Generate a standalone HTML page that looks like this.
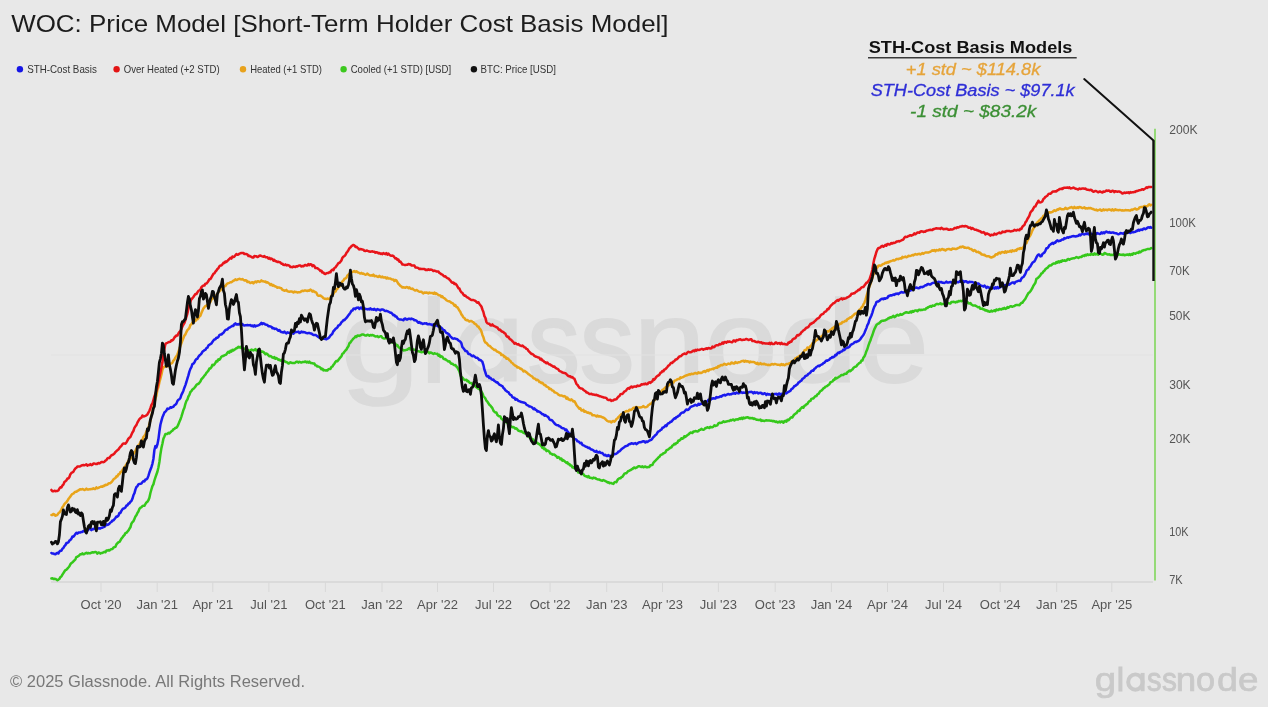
<!DOCTYPE html>
<html><head><meta charset="utf-8"><title>WOC: Price Model</title>
<style>
html,body{margin:0;padding:0;background:#e8e8e8;}
body{width:1268px;height:707px;overflow:hidden;}
svg{display:block;font-family:"Liberation Sans",sans-serif;filter:blur(0.35px);}
</style></head><body>
<svg width="1268" height="707" viewBox="0 0 1268 707"><rect width="1268" height="707" fill="#e8e8e8"/><text transform="translate(340.51 381.5) scale(1.220 1)" font-size="117" fill="#dadada" stroke="#dadada" stroke-width="1.64">g</text><text transform="translate(421.33 381.5) scale(0.972 1)" font-size="117" fill="#dadada" stroke="#dadada" stroke-width="2.06">l</text><ellipse cx="487.15" cy="350.02" rx="23.02" ry="25.55" fill="none" stroke="#dadada" stroke-width="12.85"/><rect x="503.75" y="318.54" width="12.85" height="62.96" fill="#dadada"/><text transform="translate(527.48 381.5) scale(0.898 1)" font-size="117" fill="#dadada" stroke="#dadada" stroke-width="2.23">s</text><text transform="translate(579.76 381.5) scale(0.935 1)" font-size="117" fill="#dadada" stroke="#dadada" stroke-width="2.14">s</text><text transform="translate(633.40 381.5) scale(1.107 1)" font-size="117" fill="#dadada" stroke="#dadada" stroke-width="1.81">n</text><text transform="translate(704.49 381.5) scale(1.122 1)" font-size="117" fill="#dadada" stroke="#dadada" stroke-width="1.78">o</text><text transform="translate(779.02 381.5) scale(1.216 1)" font-size="117" fill="#dadada" stroke="#dadada" stroke-width="1.64">d</text><text transform="translate(858.66 381.5) scale(1.075 1)" font-size="117" fill="#dadada" stroke="#dadada" stroke-width="1.86">e</text><line x1="51" y1="355" x2="1153" y2="355" stroke="#e2e2e2" stroke-width="1.2"/><text x="11.2" y="32.4" font-size="24" fill="#1c1c1c" textLength="657.4" lengthAdjust="spacingAndGlyphs">WOC: Price Model [Short-Term Holder Cost Basis Model]</text><circle cx="19.9" cy="69.2" r="3.2" fill="#1515e6"/><text x="27.2" y="73" font-size="10.6" fill="#333333" textLength="69.6" lengthAdjust="spacingAndGlyphs">STH-Cost Basis</text><circle cx="116.6" cy="69.2" r="3.2" fill="#e31414"/><text x="123.7" y="73" font-size="10.6" fill="#333333" textLength="96" lengthAdjust="spacingAndGlyphs">Over Heated (+2 STD)</text><circle cx="243" cy="69.2" r="3.2" fill="#e8a21c"/><text x="250.2" y="73" font-size="10.6" fill="#333333" textLength="71.8" lengthAdjust="spacingAndGlyphs">Heated (+1 STD)</text><circle cx="343.6" cy="69.2" r="3.2" fill="#3cc81e"/><text x="350.7" y="73" font-size="10.6" fill="#333333" textLength="100.4" lengthAdjust="spacingAndGlyphs">Cooled (+1 STD) [USD]</text><circle cx="473.9" cy="69.2" r="3.2" fill="#111111"/><text x="480.5" y="73" font-size="10.6" fill="#333333" textLength="75.5" lengthAdjust="spacingAndGlyphs">BTC: Price [USD]</text><text x="868.7" y="53.3" font-size="16.5" font-weight="bold" fill="#111111" textLength="203.7" lengthAdjust="spacingAndGlyphs">STH-Cost Basis Models</text><line x1="868" y1="57.8" x2="1076.7" y2="57.8" stroke="#3a3a3a" stroke-width="1.6"/><text x="905.8" y="74.7" font-size="16.6" font-style="italic" fill="#e6a43a" stroke="#e6a43a" stroke-width="0.3" textLength="134.5" lengthAdjust="spacingAndGlyphs">+1 std ~ $114.8k</text><text x="870.7" y="96.1" font-size="16.6" font-style="italic" fill="#2e2ed6" stroke="#2e2ed6" stroke-width="0.3" textLength="204" lengthAdjust="spacingAndGlyphs">STH-Cost Basis ~ $97.1k</text><text x="910.1" y="117.4" font-size="16.6" font-style="italic" fill="#3b8f34" stroke="#3b8f34" stroke-width="0.3" textLength="126.2" lengthAdjust="spacingAndGlyphs">-1 std ~ $83.2k</text><line x1="51" y1="582" x2="1153" y2="582" stroke="#d6d6d6" stroke-width="1.4"/><line x1="101" y1="582" x2="101" y2="592" stroke="#d8d8d8" stroke-width="1"/><text x="101" y="609.3" font-size="13" fill="#555555" text-anchor="middle">Oct '20</text><line x1="157.2" y1="582" x2="157.2" y2="592" stroke="#d8d8d8" stroke-width="1"/><text x="157.2" y="609.3" font-size="13" fill="#555555" text-anchor="middle">Jan '21</text><line x1="212.8" y1="582" x2="212.8" y2="592" stroke="#d8d8d8" stroke-width="1"/><text x="212.8" y="609.3" font-size="13" fill="#555555" text-anchor="middle">Apr '21</text><line x1="268.9" y1="582" x2="268.9" y2="592" stroke="#d8d8d8" stroke-width="1"/><text x="268.9" y="609.3" font-size="13" fill="#555555" text-anchor="middle">Jul '21</text><line x1="325.4" y1="582" x2="325.4" y2="592" stroke="#d8d8d8" stroke-width="1"/><text x="325.4" y="609.3" font-size="13" fill="#555555" text-anchor="middle">Oct '21</text><line x1="382" y1="582" x2="382" y2="592" stroke="#d8d8d8" stroke-width="1"/><text x="382" y="609.3" font-size="13" fill="#555555" text-anchor="middle">Jan '22</text><line x1="437.5" y1="582" x2="437.5" y2="592" stroke="#d8d8d8" stroke-width="1"/><text x="437.5" y="609.3" font-size="13" fill="#555555" text-anchor="middle">Apr '22</text><line x1="493.5" y1="582" x2="493.5" y2="592" stroke="#d8d8d8" stroke-width="1"/><text x="493.5" y="609.3" font-size="13" fill="#555555" text-anchor="middle">Jul '22</text><line x1="550.1" y1="582" x2="550.1" y2="592" stroke="#d8d8d8" stroke-width="1"/><text x="550.1" y="609.3" font-size="13" fill="#555555" text-anchor="middle">Oct '22</text><line x1="606.7" y1="582" x2="606.7" y2="592" stroke="#d8d8d8" stroke-width="1"/><text x="606.7" y="609.3" font-size="13" fill="#555555" text-anchor="middle">Jan '23</text><line x1="662.5" y1="582" x2="662.5" y2="592" stroke="#d8d8d8" stroke-width="1"/><text x="662.5" y="609.3" font-size="13" fill="#555555" text-anchor="middle">Apr '23</text><line x1="718.4" y1="582" x2="718.4" y2="592" stroke="#d8d8d8" stroke-width="1"/><text x="718.4" y="609.3" font-size="13" fill="#555555" text-anchor="middle">Jul '23</text><line x1="775.2" y1="582" x2="775.2" y2="592" stroke="#d8d8d8" stroke-width="1"/><text x="775.2" y="609.3" font-size="13" fill="#555555" text-anchor="middle">Oct '23</text><line x1="831.4" y1="582" x2="831.4" y2="592" stroke="#d8d8d8" stroke-width="1"/><text x="831.4" y="609.3" font-size="13" fill="#555555" text-anchor="middle">Jan '24</text><line x1="887.5" y1="582" x2="887.5" y2="592" stroke="#d8d8d8" stroke-width="1"/><text x="887.5" y="609.3" font-size="13" fill="#555555" text-anchor="middle">Apr '24</text><line x1="943.5" y1="582" x2="943.5" y2="592" stroke="#d8d8d8" stroke-width="1"/><text x="943.5" y="609.3" font-size="13" fill="#555555" text-anchor="middle">Jul '24</text><line x1="1000.2" y1="582" x2="1000.2" y2="592" stroke="#d8d8d8" stroke-width="1"/><text x="1000.2" y="609.3" font-size="13" fill="#555555" text-anchor="middle">Oct '24</text><line x1="1056.7" y1="582" x2="1056.7" y2="592" stroke="#d8d8d8" stroke-width="1"/><text x="1056.7" y="609.3" font-size="13" fill="#555555" text-anchor="middle">Jan '25</text><line x1="1111.8" y1="582" x2="1111.8" y2="592" stroke="#d8d8d8" stroke-width="1"/><text x="1111.8" y="609.3" font-size="13" fill="#555555" text-anchor="middle">Apr '25</text><text x="1169.2" y="133.9" font-size="12.8" fill="#555555" textLength="28.4" lengthAdjust="spacingAndGlyphs">200K</text><text x="1169.2" y="226.9" font-size="12.8" fill="#555555" textLength="26.7" lengthAdjust="spacingAndGlyphs">100K</text><text x="1169.2" y="274.8" font-size="12.8" fill="#555555" textLength="20.5" lengthAdjust="spacingAndGlyphs">70K</text><text x="1169.2" y="319.9" font-size="12.8" fill="#555555" textLength="21.2" lengthAdjust="spacingAndGlyphs">50K</text><text x="1169.2" y="388.5" font-size="12.8" fill="#555555" textLength="21.5" lengthAdjust="spacingAndGlyphs">30K</text><text x="1169.2" y="442.9" font-size="12.8" fill="#555555" textLength="21.2" lengthAdjust="spacingAndGlyphs">20K</text><text x="1169.2" y="535.9" font-size="12.8" fill="#555555" textLength="19.3" lengthAdjust="spacingAndGlyphs">10K</text><text x="1169.2" y="583.8" font-size="12.8" fill="#555555" textLength="13.5" lengthAdjust="spacingAndGlyphs">7K</text><path d="M51.4 578.5L52.4 578.3L53.4 579.0L54.4 578.8L55.4 578.9L56.4 579.5L57.4 580.2L58.4 579.6L59.4 578.9L60.4 577.1L61.4 576.5L62.4 574.7L63.4 573.1L64.4 571.5L65.4 570.1L66.4 569.8L67.4 568.6L68.4 567.5L69.4 566.3L70.4 564.2L71.4 563.1L72.4 562.4L73.4 561.3L74.4 560.3L75.4 559.3L76.4 556.9L77.4 556.8L78.4 556.1L79.4 555.2L80.4 554.2L81.4 554.3L82.4 553.3L83.4 554.3L84.4 554.0L85.4 553.3L86.4 552.7L87.4 553.5L88.4 552.9L89.4 553.3L90.4 553.2L91.4 552.6L92.4 552.3L93.4 552.6L94.4 552.2L95.4 551.9L96.4 552.4L97.4 553.6L98.4 552.6L99.4 552.8L100.4 553.6L101.4 552.9L102.4 552.9L103.4 552.4L104.4 551.7L105.4 552.3L106.4 550.6L107.4 550.6L108.4 550.1L109.4 550.5L110.4 549.6L111.4 549.2L112.4 549.1L113.4 547.7L114.4 547.2L115.4 546.8L116.4 544.4L117.4 543.2L118.4 542.3L119.4 541.9L120.4 540.5L121.4 538.6L122.4 537.5L123.4 536.0L124.4 535.1L125.4 533.1L126.4 532.8L127.4 531.7L128.4 530.5L129.4 528.8L130.4 527.3L131.4 523.7L132.4 522.1L133.4 521.2L134.4 518.9L135.4 516.6L136.4 515.3L137.4 512.9L138.4 511.5L139.4 508.9L140.4 507.7L141.4 507.3L142.4 506.1L143.4 505.7L144.4 505.8L145.4 504.0L146.4 502.6L147.4 501.8L148.4 500.3L149.4 497.7L150.4 493.0L151.4 489.5L152.4 486.1L153.4 484.4L154.4 480.5L155.4 477.3L156.4 474.5L157.4 471.8L158.4 467.5L159.4 462.0L160.4 454.2L161.4 448.1L162.4 443.7L163.4 438.8L164.4 436.5L165.4 434.0L166.4 434.0L167.4 433.9L168.4 432.9L169.4 433.5L170.4 432.3L171.4 431.3L172.4 430.7L173.4 429.3L174.4 429.1L175.4 427.8L176.4 427.8L177.4 426.4L178.4 424.4L179.4 421.8L180.4 419.6L181.4 416.6L182.4 413.3L183.4 410.0L184.4 407.8L185.4 403.8L186.4 400.9L187.4 399.6L188.4 396.5L189.4 394.9L190.4 392.0L191.4 391.1L192.4 389.5L193.4 388.8L194.4 387.8L195.4 386.6L196.4 385.0L197.4 384.1L198.4 384.0L199.4 382.7L200.4 381.5L201.4 379.2L202.4 378.3L203.4 377.1L204.4 375.6L205.4 374.6L206.4 372.9L207.4 371.8L208.4 370.6L209.4 368.6L210.4 368.4L211.4 367.2L212.4 364.8L213.4 365.3L214.4 364.3L215.4 362.9L216.4 361.0L217.4 361.4L218.4 359.3L219.4 359.8L220.4 358.4L221.4 356.7L222.4 356.1L223.4 356.1L224.4 355.3L225.4 354.9L226.4 354.5L227.4 352.7L228.4 351.8L229.4 352.7L230.4 350.7L231.4 351.6L232.4 349.9L233.4 350.4L234.4 349.6L235.4 349.1L236.4 348.0L237.4 348.1L238.4 346.7L239.4 347.4L240.4 346.9L241.4 348.1L242.4 348.3L243.4 348.3L244.4 348.9L245.4 348.6L246.4 349.0L247.4 350.3L248.4 350.3L249.4 350.9L250.4 350.5L251.4 349.6L252.4 349.9L253.4 350.5L254.4 350.0L255.4 349.1L256.4 350.5L257.4 350.5L258.4 349.5L259.4 350.6L260.4 350.7L261.4 351.8L262.4 351.6L263.4 352.0L264.4 353.0L265.4 354.3L266.4 353.5L267.4 354.1L268.4 355.4L269.4 356.3L270.4 356.1L271.4 356.5L272.4 357.6L273.4 357.9L274.4 357.1L275.4 358.8L276.4 358.1L277.4 358.7L278.4 359.9L279.4 359.6L280.4 360.6L281.4 359.9L282.4 361.4L283.4 360.7L284.4 361.0L285.4 361.9L286.4 362.0L287.4 362.6L288.4 363.4L289.4 363.2L290.4 362.2L291.4 362.8L292.4 363.1L293.4 362.9L294.4 363.1L295.4 362.5L296.4 361.7L297.4 361.8L298.4 362.6L299.4 361.7L300.4 362.3L301.4 362.6L302.4 362.0L303.4 362.1L304.4 361.9L305.4 361.4L306.4 362.4L307.4 361.7L308.4 362.6L309.4 361.7L310.4 362.9L311.4 363.0L312.4 363.2L313.4 363.4L314.4 363.6L315.4 365.3L316.4 365.4L317.4 366.6L318.4 366.5L319.4 367.0L320.4 367.7L321.4 369.2L322.4 368.7L323.4 370.4L324.4 370.0L325.4 370.5L326.4 370.2L327.4 370.5L328.4 369.2L329.4 369.0L330.4 369.1L331.4 366.9L332.4 366.6L333.4 364.9L334.4 363.7L335.4 362.0L336.4 360.9L337.4 361.2L338.4 359.9L339.4 358.6L340.4 357.4L341.4 356.4L342.4 353.8L343.4 353.2L344.4 351.7L345.4 350.5L346.4 349.6L347.4 347.7L348.4 346.3L349.4 343.3L350.4 342.5L351.4 341.0L352.4 339.8L353.4 338.5L354.4 337.9L355.4 336.4L356.4 336.9L357.4 335.6L358.4 335.6L359.4 335.9L360.4 335.4L361.4 334.7L362.4 334.4L363.4 334.6L364.4 335.0L365.4 335.6L366.4 335.6L367.4 334.8L368.4 335.0L369.4 335.7L370.4 335.0L371.4 335.4L372.4 334.9L373.4 335.3L374.4 336.0L375.4 336.4L376.4 336.4L377.4 336.1L378.4 337.2L379.4 336.8L380.4 336.2L381.4 336.3L382.4 337.9L383.4 338.2L384.4 338.4L385.4 338.3L386.4 338.2L387.4 338.4L388.4 339.2L389.4 339.8L390.4 341.5L391.4 342.1L392.4 342.6L393.4 342.3L394.4 343.1L395.4 343.8L396.4 345.5L397.4 345.1L398.4 347.0L399.4 347.7L400.4 348.4L401.4 349.9L402.4 349.5L403.4 350.4L404.4 350.2L405.4 350.2L406.4 349.8L407.4 349.7L408.4 348.7L409.4 348.1L410.4 349.4L411.4 348.3L412.4 349.5L413.4 349.4L414.4 349.8L415.4 350.0L416.4 350.8L417.4 351.1L418.4 351.2L419.4 351.4L420.4 351.9L421.4 352.2L422.4 352.1L423.4 352.1L424.4 351.7L425.4 352.9L426.4 352.4L427.4 351.9L428.4 352.1L429.4 353.3L430.4 352.5L431.4 352.8L432.4 353.4L433.4 353.9L434.4 353.2L435.4 353.6L436.4 353.9L437.4 353.8L438.4 355.6L439.4 354.8L440.4 356.9L441.4 356.3L442.4 356.9L443.4 358.7L444.4 359.3L445.4 359.0L446.4 360.2L447.4 360.6L448.4 361.6L449.4 361.3L450.4 362.8L451.4 363.7L452.4 363.7L453.4 364.7L454.4 365.3L455.4 365.1L456.4 366.5L457.4 367.5L458.4 369.5L459.4 371.4L460.4 374.9L461.4 377.7L462.4 377.6L463.4 378.8L464.4 379.9L465.4 380.0L466.4 379.7L467.4 381.2L468.4 381.1L469.4 382.7L470.4 382.9L471.4 382.9L472.4 384.5L473.4 384.7L474.4 385.0L475.4 386.5L476.4 387.3L477.4 388.0L478.4 388.7L479.4 389.2L480.4 390.0L481.4 391.5L482.4 393.3L483.4 396.0L484.4 397.2L485.4 398.5L486.4 400.7L487.4 401.7L488.4 403.2L489.4 404.7L490.4 405.6L491.4 406.9L492.4 408.1L493.4 410.6L494.4 411.8L495.4 412.5L496.4 412.6L497.4 415.0L498.4 415.8L499.4 416.3L500.4 416.5L501.4 418.8L502.4 419.4L503.4 420.3L504.4 420.2L505.4 422.1L506.4 421.8L507.4 423.3L508.4 423.5L509.4 424.5L510.4 426.1L511.4 426.5L512.4 427.2L513.4 427.0L514.4 427.8L515.4 428.7L516.4 428.3L517.4 429.4L518.4 430.8L519.4 430.9L520.4 431.5L521.4 431.0L522.4 432.1L523.4 432.8L524.4 433.2L525.4 433.4L526.4 433.7L527.4 434.2L528.4 436.4L529.4 437.2L530.4 437.0L531.4 438.6L532.4 438.9L533.4 440.1L534.4 441.3L535.4 441.3L536.4 442.6L537.4 442.8L538.4 444.0L539.4 444.1L540.4 445.3L541.4 446.1L542.4 447.9L543.4 447.5L544.4 449.3L545.4 448.9L546.4 451.1L547.4 450.4L548.4 451.0L549.4 451.8L550.4 453.6L551.4 453.7L552.4 454.7L553.4 454.6L554.4 454.6L555.4 455.5L556.4 456.3L557.4 457.7L558.4 457.0L559.4 457.7L560.4 459.2L561.4 458.6L562.4 460.6L563.4 460.1L564.4 461.1L565.4 461.9L566.4 462.9L567.4 462.3L568.4 464.2L569.4 463.9L570.4 465.6L571.4 465.4L572.4 467.4L573.4 467.3L574.4 468.2L575.4 468.8L576.4 470.0L577.4 470.8L578.4 472.5L579.4 472.5L580.4 472.7L581.4 474.3L582.4 473.5L583.4 474.1L584.4 475.7L585.4 476.2L586.4 476.2L587.4 477.1L588.4 476.0L589.4 477.7L590.4 477.7L591.4 478.0L592.4 478.5L593.4 477.6L594.4 478.0L595.4 478.1L596.4 478.9L597.4 479.2L598.4 479.4L599.4 479.4L600.4 480.2L601.4 480.6L602.4 480.8L603.4 480.0L604.4 480.5L605.4 481.1L606.4 481.5L607.4 482.4L608.4 482.2L609.4 483.2L610.4 482.9L611.4 483.1L612.4 483.6L613.4 483.9L614.4 482.3L615.4 481.9L616.4 482.2L617.4 480.1L618.4 478.9L619.4 478.2L620.4 478.3L621.4 477.2L622.4 476.8L623.4 475.3L624.4 473.7L625.4 473.3L626.4 473.2L627.4 472.0L628.4 470.9L629.4 470.7L630.4 470.2L631.4 469.4L632.4 469.0L633.4 468.0L634.4 467.4L635.4 468.2L636.4 467.7L637.4 466.9L638.4 466.2L639.4 466.3L640.4 466.6L641.4 467.0L642.4 466.4L643.4 467.3L644.4 466.8L645.4 466.5L646.4 467.3L647.4 467.3L648.4 467.1L649.4 466.9L650.4 465.2L651.4 465.2L652.4 464.9L653.4 462.8L654.4 461.6L655.4 460.7L656.4 459.7L657.4 458.7L658.4 457.4L659.4 456.9L660.4 455.2L661.4 454.6L662.4 454.3L663.4 453.2L664.4 453.1L665.4 452.3L666.4 450.4L667.4 449.8L668.4 449.3L669.4 448.6L670.4 447.5L671.4 447.5L672.4 445.6L673.4 445.2L674.4 443.8L675.4 444.2L676.4 442.9L677.4 442.7L678.4 440.6L679.4 440.7L680.4 439.7L681.4 438.2L682.4 438.7L683.4 438.1L684.4 436.2L685.4 436.9L686.4 436.0L687.4 435.1L688.4 434.5L689.4 433.5L690.4 432.6L691.4 432.8L692.4 433.0L693.4 431.5L694.4 431.6L695.4 430.9L696.4 431.3L697.4 431.5L698.4 431.1L699.4 429.9L700.4 429.8L701.4 428.9L702.4 429.5L703.4 429.7L704.4 429.4L705.4 427.9L706.4 428.1L707.4 427.3L708.4 427.6L709.4 428.0L710.4 426.7L711.4 427.3L712.4 427.2L713.4 426.6L714.4 425.3L715.4 426.0L716.4 425.6L717.4 425.3L718.4 423.3L719.4 422.8L720.4 422.9L721.4 422.8L722.4 422.3L723.4 421.4L724.4 422.0L725.4 421.8L726.4 421.6L727.4 421.2L728.4 421.1L729.4 421.1L730.4 420.0L731.4 420.4L732.4 419.8L733.4 419.6L734.4 420.5L735.4 419.6L736.4 419.5L737.4 419.2L738.4 419.5L739.4 418.4L740.4 419.0L741.4 417.8L742.4 419.0L743.4 417.5L744.4 418.3L745.4 417.8L746.4 417.5L747.4 417.3L748.4 417.4L749.4 418.2L750.4 418.0L751.4 418.2L752.4 418.0L753.4 418.9L754.4 418.4L755.4 419.2L756.4 419.7L757.4 419.7L758.4 419.9L759.4 420.0L760.4 419.5L761.4 420.9L762.4 420.5L763.4 420.7L764.4 421.1L765.4 420.4L766.4 420.3L767.4 420.4L768.4 420.5L769.4 420.6L770.4 420.7L771.4 420.7L772.4 421.2L773.4 421.0L774.4 421.3L775.4 421.9L776.4 421.4L777.4 422.4L778.4 422.3L779.4 421.6L780.4 422.4L781.4 421.5L782.4 421.4L783.4 422.8L784.4 421.2L785.4 420.8L786.4 421.7L787.4 419.7L788.4 420.2L789.4 419.3L790.4 418.0L791.4 417.2L792.4 417.5L793.4 415.6L794.4 414.4L795.4 413.7L796.4 413.2L797.4 411.7L798.4 410.6L799.4 410.9L800.4 408.9L801.4 408.0L802.4 407.0L803.4 407.7L804.4 405.9L805.4 405.4L806.4 404.2L807.4 404.0L808.4 402.1L809.4 401.2L810.4 400.9L811.4 398.9L812.4 398.6L813.4 398.4L814.4 397.2L815.4 396.2L816.4 396.0L817.4 394.3L818.4 393.9L819.4 392.5L820.4 391.1L821.4 390.7L822.4 389.6L823.4 388.4L824.4 387.9L825.4 386.7L826.4 386.3L827.4 385.8L828.4 384.9L829.4 384.2L830.4 382.3L831.4 382.0L832.4 381.5L833.4 379.8L834.4 379.9L835.4 377.8L836.4 378.4L837.4 377.7L838.4 377.3L839.4 376.6L840.4 375.9L841.4 375.0L842.4 375.1L843.4 374.9L844.4 374.0L845.4 373.7L846.4 373.7L847.4 372.2L848.4 371.7L849.4 370.6L850.4 371.2L851.4 370.1L852.4 369.4L853.4 368.0L854.4 367.1L855.4 366.7L856.4 366.4L857.4 364.7L858.4 363.9L859.4 362.9L860.4 362.6L861.4 360.5L862.4 360.6L863.4 357.6L864.4 356.5L865.4 354.2L866.4 351.2L867.4 349.0L868.4 345.7L869.4 342.8L870.4 340.5L871.4 337.4L872.4 335.0L873.4 331.8L874.4 329.1L875.4 327.1L876.4 325.0L877.4 324.1L878.4 323.7L879.4 322.9L880.4 322.1L881.4 320.9L882.4 320.7L883.4 320.7L884.4 320.4L885.4 320.2L886.4 319.6L887.4 319.1L888.4 318.1L889.4 318.2L890.4 317.2L891.4 317.6L892.4 316.5L893.4 315.9L894.4 317.1L895.4 316.6L896.4 315.4L897.4 314.7L898.4 315.6L899.4 315.2L900.4 314.0L901.4 314.8L902.4 314.5L903.4 313.8L904.4 313.1L905.4 312.5L906.4 312.2L907.4 312.6L908.4 312.8L909.4 312.5L910.4 311.6L911.4 312.4L912.4 311.0L913.4 311.7L914.4 310.8L915.4 310.4L916.4 310.5L917.4 311.3L918.4 310.2L919.4 309.7L920.4 310.2L921.4 309.8L922.4 309.9L923.4 309.6L924.4 309.5L925.4 309.4L926.4 308.1L927.4 308.1L928.4 306.9L929.4 306.7L930.4 306.0L931.4 306.8L932.4 305.6L933.4 305.8L934.4 305.8L935.4 304.7L936.4 304.1L937.4 304.0L938.4 304.2L939.4 303.9L940.4 303.2L941.4 304.3L942.4 303.9L943.4 304.1L944.4 304.0L945.4 303.7L946.4 303.8L947.4 303.5L948.4 303.0L949.4 303.5L950.4 303.5L951.4 302.1L952.4 301.9L953.4 301.8L954.4 302.0L955.4 302.5L956.4 301.7L957.4 302.1L958.4 301.1L959.4 301.3L960.4 300.7L961.4 301.3L962.4 300.7L963.4 300.4L964.4 301.2L965.4 301.7L966.4 302.5L967.4 301.9L968.4 303.3L969.4 303.6L970.4 303.0L971.4 304.4L972.4 305.1L973.4 305.6L974.4 305.6L975.4 305.6L976.4 306.2L977.4 306.8L978.4 307.3L979.4 307.1L980.4 308.8L981.4 308.8L982.4 308.6L983.4 309.4L984.4 309.5L985.4 310.5L986.4 310.2L987.4 311.2L988.4 310.9L989.4 311.7L990.4 311.6L991.4 310.6L992.4 311.5L993.4 311.0L994.4 310.3L995.4 311.2L996.4 309.5L997.4 309.9L998.4 310.0L999.4 309.0L1000.4 309.3L1001.4 309.6L1002.4 308.5L1003.4 308.9L1004.4 307.8L1005.4 308.9L1006.4 308.6L1007.4 307.1L1008.4 307.8L1009.4 306.9L1010.4 306.2L1011.4 306.3L1012.4 306.8L1013.4 306.2L1014.4 306.1L1015.4 305.2L1016.4 305.0L1017.4 305.0L1018.4 305.0L1019.4 305.2L1020.4 303.9L1021.4 302.8L1022.4 302.8L1023.4 301.2L1024.4 300.0L1025.4 298.8L1026.4 296.8L1027.4 294.9L1028.4 293.1L1029.4 292.4L1030.4 291.2L1031.4 289.7L1032.4 288.0L1033.4 285.7L1034.4 284.3L1035.4 282.8L1036.4 278.8L1037.4 278.3L1038.4 277.5L1039.4 276.4L1040.4 275.2L1041.4 273.5L1042.4 273.1L1043.4 271.5L1044.4 270.7L1045.4 269.3L1046.4 268.4L1047.4 267.9L1048.4 266.7L1049.4 265.6L1050.4 265.5L1051.4 265.2L1052.4 264.1L1053.4 263.6L1054.4 263.4L1055.4 263.5L1056.4 262.0L1057.4 262.6L1058.4 261.4L1059.4 262.4L1060.4 261.0L1061.4 261.8L1062.4 260.3L1063.4 260.8L1064.4 260.3L1065.4 260.9L1066.4 260.6L1067.4 259.4L1068.4 259.0L1069.4 259.8L1070.4 259.1L1071.4 258.7L1072.4 258.4L1073.4 258.2L1074.4 258.3L1075.4 257.7L1076.4 257.1L1077.4 257.4L1078.4 257.9L1079.4 257.3L1080.4 256.9L1081.4 257.0L1082.4 256.0L1083.4 255.6L1084.4 256.0L1085.4 254.7L1086.4 255.5L1087.4 254.4L1088.4 255.0L1089.4 254.6L1090.4 254.9L1091.4 253.7L1092.4 254.6L1093.4 254.8L1094.4 253.4L1095.4 254.4L1096.4 253.7L1097.4 254.4L1098.4 254.7L1099.4 253.1L1100.4 253.8L1101.4 253.9L1102.4 254.7L1103.4 254.6L1104.4 253.1L1105.4 253.3L1106.4 253.8L1107.4 254.5L1108.4 254.5L1109.4 254.2L1110.4 254.9L1111.4 254.8L1112.4 255.0L1113.4 254.7L1114.4 254.2L1115.4 255.1L1116.4 255.1L1117.4 255.5L1118.4 254.4L1119.4 254.2L1120.4 254.8L1121.4 254.7L1122.4 254.9L1123.4 254.4L1124.4 255.3L1125.4 255.0L1126.4 254.7L1127.4 254.4L1128.4 255.0L1129.4 254.1L1130.4 255.1L1131.4 254.0L1132.4 254.8L1133.4 253.3L1134.4 253.4L1135.4 253.7L1136.4 253.0L1137.4 252.6L1138.4 252.9L1139.4 251.5L1140.4 252.3L1141.4 251.4L1142.4 250.6L1143.4 250.4L1144.4 249.9L1145.4 250.0L1146.4 249.4L1147.4 249.1L1148.4 249.0L1149.4 249.1L1150.4 248.6L1151.2 248.1" fill="none" stroke="#35c81a" stroke-width="2.5" stroke-linejoin="round" stroke-linecap="round"/><path d="M51.4 553.0L52.4 553.6L53.4 553.5L54.4 554.1L55.4 554.3L56.4 553.3L57.4 552.8L58.4 553.5L59.4 551.7L60.4 550.7L61.4 550.8L62.4 548.7L63.4 548.0L64.4 546.1L65.4 545.1L66.4 543.1L67.4 542.9L68.4 542.3L69.4 540.6L70.4 539.9L71.4 538.7L72.4 536.6L73.4 536.7L74.4 535.4L75.4 534.1L76.4 532.8L77.4 533.6L78.4 532.6L79.4 532.6L80.4 532.5L81.4 531.9L82.4 532.0L83.4 530.9L84.4 531.2L85.4 530.4L86.4 531.0L87.4 530.7L88.4 529.3L89.4 529.1L90.4 529.1L91.4 530.1L92.4 529.1L93.4 529.3L94.4 528.5L95.4 528.6L96.4 528.3L97.4 528.2L98.4 528.5L99.4 528.3L100.4 528.5L101.4 527.8L102.4 527.7L103.4 527.2L104.4 526.8L105.4 525.8L106.4 524.4L107.4 524.9L108.4 524.5L109.4 523.7L110.4 522.5L111.4 522.0L112.4 520.4L113.4 520.6L114.4 519.3L115.4 518.0L116.4 516.6L117.4 516.7L118.4 515.7L119.4 513.0L120.4 512.9L121.4 510.9L122.4 509.3L123.4 508.5L124.4 508.3L125.4 507.6L126.4 505.4L127.4 505.4L128.4 503.5L129.4 503.5L130.4 501.7L131.4 501.1L132.4 498.8L133.4 495.3L134.4 493.3L135.4 489.6L136.4 487.0L137.4 486.3L138.4 484.3L139.4 483.9L140.4 483.8L141.4 483.6L142.4 482.1L143.4 481.1L144.4 481.4L145.4 479.5L146.4 479.5L147.4 478.4L148.4 475.9L149.4 472.5L150.4 469.8L151.4 467.2L152.4 463.8L153.4 459.0L154.4 450.0L155.4 446.1L156.4 447.4L157.4 444.4L158.4 439.3L159.4 431.5L160.4 424.7L161.4 420.9L162.4 417.3L163.4 415.1L164.4 412.5L165.4 411.6L166.4 410.5L167.4 408.6L168.4 409.0L169.4 408.5L170.4 407.2L171.4 407.7L172.4 407.0L173.4 406.7L174.4 405.3L175.4 404.7L176.4 403.6L177.4 401.1L178.4 399.8L179.4 399.2L180.4 398.0L181.4 394.8L182.4 392.9L183.4 390.7L184.4 387.7L185.4 385.1L186.4 382.0L187.4 378.6L188.4 375.4L189.4 371.6L190.4 368.8L191.4 367.1L192.4 364.1L193.4 363.6L194.4 362.5L195.4 360.3L196.4 359.0L197.4 358.8L198.4 356.8L199.4 355.5L200.4 354.6L201.4 353.6L202.4 351.8L203.4 351.1L204.4 350.1L205.4 349.8L206.4 348.1L207.4 347.7L208.4 345.5L209.4 344.7L210.4 344.1L211.4 343.5L212.4 341.9L213.4 340.5L214.4 339.4L215.4 339.2L216.4 337.7L217.4 337.8L218.4 337.0L219.4 335.1L220.4 334.5L221.4 334.5L222.4 333.5L223.4 332.9L224.4 331.3L225.4 330.1L226.4 329.6L227.4 329.6L228.4 328.1L229.4 327.6L230.4 327.1L231.4 326.4L232.4 325.7L233.4 325.9L234.4 324.1L235.4 323.4L236.4 324.6L237.4 324.3L238.4 324.4L239.4 323.7L240.4 324.7L241.4 324.9L242.4 324.1L243.4 325.2L244.4 325.4L245.4 325.3L246.4 325.2L247.4 325.0L248.4 325.2L249.4 325.2L250.4 325.1L251.4 326.0L252.4 325.6L253.4 326.4L254.4 325.2L255.4 326.4L256.4 325.7L257.4 325.7L258.4 325.3L259.4 324.9L260.4 324.0L261.4 322.9L262.4 324.1L263.4 323.3L264.4 323.7L265.4 324.6L266.4 324.8L267.4 325.0L268.4 326.3L269.4 326.3L270.4 326.4L271.4 326.8L272.4 328.2L273.4 328.0L274.4 328.9L275.4 328.7L276.4 328.8L277.4 329.8L278.4 330.7L279.4 330.1L280.4 331.5L281.4 332.1L282.4 332.3L283.4 332.6L284.4 331.6L285.4 332.8L286.4 333.4L287.4 332.3L288.4 332.7L289.4 332.8L290.4 333.3L291.4 333.2L292.4 333.3L293.4 333.7L294.4 332.3L295.4 332.2L296.4 332.1L297.4 331.9L298.4 331.6L299.4 333.0L300.4 332.8L301.4 331.6L302.4 332.3L303.4 332.1L304.4 332.3L305.4 332.5L306.4 333.1L307.4 333.2L308.4 333.0L309.4 333.0L310.4 333.4L311.4 333.4L312.4 334.4L313.4 335.0L314.4 334.9L315.4 334.9L316.4 335.5L317.4 336.3L318.4 337.1L319.4 337.8L320.4 337.5L321.4 338.5L322.4 338.5L323.4 338.5L324.4 338.7L325.4 339.1L326.4 339.3L327.4 338.5L328.4 338.3L329.4 337.1L330.4 335.6L331.4 334.8L332.4 333.6L333.4 331.2L334.4 330.3L335.4 328.9L336.4 328.3L337.4 327.3L338.4 325.4L339.4 325.2L340.4 324.1L341.4 322.3L342.4 321.6L343.4 320.1L344.4 320.2L345.4 318.9L346.4 318.1L347.4 316.7L348.4 315.3L349.4 314.1L350.4 312.6L351.4 310.8L352.4 310.6L353.4 308.8L354.4 308.5L355.4 309.1L356.4 307.7L357.4 307.7L358.4 307.6L359.4 308.9L360.4 307.8L361.4 307.6L362.4 308.9L363.4 307.8L364.4 309.0L365.4 308.8L366.4 309.1L367.4 309.4L368.4 308.9L369.4 309.4L370.4 308.3L371.4 309.6L372.4 309.3L373.4 309.7L374.4 308.8L375.4 310.0L376.4 310.3L377.4 309.0L378.4 309.5L379.4 309.9L380.4 310.4L381.4 309.5L382.4 309.6L383.4 309.8L384.4 310.6L385.4 311.0L386.4 310.8L387.4 311.2L388.4 311.7L389.4 312.1L390.4 312.7L391.4 312.8L392.4 314.0L393.4 315.3L394.4 315.0L395.4 316.4L396.4 316.4L397.4 318.1L398.4 319.0L399.4 319.5L400.4 319.6L401.4 319.6L402.4 319.9L403.4 320.2L404.4 318.8L405.4 318.6L406.4 319.4L407.4 319.6L408.4 318.8L409.4 318.7L410.4 319.2L411.4 318.6L412.4 319.0L413.4 319.2L414.4 320.3L415.4 320.3L416.4 320.6L417.4 321.8L418.4 322.7L419.4 322.1L420.4 323.2L421.4 323.0L422.4 323.9L423.4 323.7L424.4 323.3L425.4 323.4L426.4 323.3L427.4 324.2L428.4 324.2L429.4 324.0L430.4 324.4L431.4 324.4L432.4 325.3L433.4 324.4L434.4 325.9L435.4 325.2L436.4 325.6L437.4 325.7L438.4 326.6L439.4 326.9L440.4 327.1L441.4 327.7L442.4 328.9L443.4 330.0L444.4 330.2L445.4 331.7L446.4 333.0L447.4 333.3L448.4 334.0L449.4 335.0L450.4 336.6L451.4 337.3L452.4 338.4L453.4 338.7L454.4 338.3L455.4 338.7L456.4 339.1L457.4 339.3L458.4 340.4L459.4 341.1L460.4 341.8L461.4 343.2L462.4 347.2L463.4 348.2L464.4 349.5L465.4 351.0L466.4 350.9L467.4 351.9L468.4 354.1L469.4 353.9L470.4 354.6L471.4 355.5L472.4 356.2L473.4 355.6L474.4 356.6L475.4 357.3L476.4 357.8L477.4 357.8L478.4 358.9L479.4 360.1L480.4 359.9L481.4 360.9L482.4 361.8L483.4 365.1L484.4 369.7L485.4 372.5L486.4 375.6L487.4 376.6L488.4 376.1L489.4 378.1L490.4 377.8L491.4 379.1L492.4 379.7L493.4 379.6L494.4 380.9L495.4 381.5L496.4 382.4L497.4 382.2L498.4 383.6L499.4 384.6L500.4 385.1L501.4 385.8L502.4 386.1L503.4 387.9L504.4 388.8L505.4 390.2L506.4 391.0L507.4 391.8L508.4 392.2L509.4 393.9L510.4 394.9L511.4 395.2L512.4 397.2L513.4 397.7L514.4 397.7L515.4 399.6L516.4 399.0L517.4 399.8L518.4 400.9L519.4 401.2L520.4 401.6L521.4 402.1L522.4 402.3L523.4 402.5L524.4 402.8L525.4 403.1L526.4 404.7L527.4 405.3L528.4 405.6L529.4 406.5L530.4 406.5L531.4 407.0L532.4 407.8L533.4 409.1L534.4 408.4L535.4 409.8L536.4 410.0L537.4 411.4L538.4 411.3L539.4 411.8L540.4 412.5L541.4 413.3L542.4 414.3L543.4 414.2L544.4 415.6L545.4 415.1L546.4 416.0L547.4 416.5L548.4 417.3L549.4 419.2L550.4 419.9L551.4 419.9L552.4 420.8L553.4 422.0L554.4 423.3L555.4 424.2L556.4 424.9L557.4 425.3L558.4 425.3L559.4 426.3L560.4 426.5L561.4 427.6L562.4 428.2L563.4 428.2L564.4 428.8L565.4 430.2L566.4 429.6L567.4 431.5L568.4 432.5L569.4 433.6L570.4 433.7L571.4 435.0L572.4 436.1L573.4 437.2L574.4 438.8L575.4 439.3L576.4 439.6L577.4 441.3L578.4 441.4L579.4 442.3L580.4 443.3L581.4 442.9L582.4 444.8L583.4 445.3L584.4 445.7L585.4 446.4L586.4 447.0L587.4 447.1L588.4 448.1L589.4 447.8L590.4 449.0L591.4 449.6L592.4 449.8L593.4 450.4L594.4 451.4L595.4 451.7L596.4 450.9L597.4 452.3L598.4 452.4L599.4 451.8L600.4 452.7L601.4 452.9L602.4 453.1L603.4 454.3L604.4 455.3L605.4 454.7L606.4 455.9L607.4 455.9L608.4 455.1L609.4 456.3L610.4 455.8L611.4 456.1L612.4 455.4L613.4 455.0L614.4 453.9L615.4 454.1L616.4 453.6L617.4 452.9L618.4 451.6L619.4 451.5L620.4 450.4L621.4 449.2L622.4 448.4L623.4 447.7L624.4 447.1L625.4 446.3L626.4 446.1L627.4 445.7L628.4 444.8L629.4 444.1L630.4 444.0L631.4 443.2L632.4 443.4L633.4 443.9L634.4 443.4L635.4 443.1L636.4 444.1L637.4 443.5L638.4 442.6L639.4 442.3L640.4 442.3L641.4 442.1L642.4 441.5L643.4 441.2L644.4 441.5L645.4 442.5L646.4 441.5L647.4 441.9L648.4 441.2L649.4 440.7L650.4 440.0L651.4 439.7L652.4 438.4L653.4 437.1L654.4 436.2L655.4 435.1L656.4 434.5L657.4 432.6L658.4 431.4L659.4 431.1L660.4 430.1L661.4 429.7L662.4 427.8L663.4 427.5L664.4 426.7L665.4 425.4L666.4 426.1L667.4 424.1L668.4 423.2L669.4 423.0L670.4 421.8L671.4 421.7L672.4 420.4L673.4 419.3L674.4 418.3L675.4 418.6L676.4 417.0L677.4 417.0L678.4 415.7L679.4 415.6L680.4 413.9L681.4 413.1L682.4 412.4L683.4 412.6L684.4 411.6L685.4 410.5L686.4 409.5L687.4 409.9L688.4 409.7L689.4 408.6L690.4 407.1L691.4 406.6L692.4 406.2L693.4 405.9L694.4 405.2L695.4 404.8L696.4 405.4L697.4 405.4L698.4 403.9L699.4 404.8L700.4 403.7L701.4 403.8L702.4 403.6L703.4 403.3L704.4 401.4L705.4 401.4L706.4 401.5L707.4 401.6L708.4 399.8L709.4 399.7L710.4 400.2L711.4 398.6L712.4 398.7L713.4 398.2L714.4 398.4L715.4 398.5L716.4 397.0L717.4 397.5L718.4 397.2L719.4 397.1L720.4 396.3L721.4 396.7L722.4 395.5L723.4 395.3L724.4 394.8L725.4 395.5L726.4 394.8L727.4 394.3L728.4 393.9L729.4 394.6L730.4 394.3L731.4 394.3L732.4 393.6L733.4 393.6L734.4 393.0L735.4 393.7L736.4 392.5L737.4 393.0L738.4 393.4L739.4 393.1L740.4 392.0L741.4 392.1L742.4 393.0L743.4 392.5L744.4 392.8L745.4 392.7L746.4 392.0L747.4 392.7L748.4 392.5L749.4 391.9L750.4 392.1L751.4 391.7L752.4 392.3L753.4 393.3L754.4 392.1L755.4 393.0L756.4 392.4L757.4 392.5L758.4 393.5L759.4 393.0L760.4 392.8L761.4 393.0L762.4 394.0L763.4 394.0L764.4 393.2L765.4 393.6L766.4 394.9L767.4 393.8L768.4 394.4L769.4 394.2L770.4 394.8L771.4 394.6L772.4 394.9L773.4 394.5L774.4 394.0L775.4 393.9L776.4 393.8L777.4 394.9L778.4 393.8L779.4 393.6L780.4 395.0L781.4 393.7L782.4 394.8L783.4 393.4L784.4 393.8L785.4 393.0L786.4 393.4L787.4 392.5L788.4 391.9L789.4 391.4L790.4 390.8L791.4 389.1L792.4 388.6L793.4 387.5L794.4 386.0L795.4 386.1L796.4 384.8L797.4 384.3L798.4 382.5L799.4 382.2L800.4 381.2L801.4 380.7L802.4 378.8L803.4 378.3L804.4 377.6L805.4 376.0L806.4 375.8L807.4 375.2L808.4 373.8L809.4 373.4L810.4 372.5L811.4 371.1L812.4 370.5L813.4 370.7L814.4 368.9L815.4 368.3L816.4 367.0L817.4 366.5L818.4 365.7L819.4 366.2L820.4 365.1L821.4 364.7L822.4 364.2L823.4 362.9L824.4 362.7L825.4 361.4L826.4 360.6L827.4 360.8L828.4 360.1L829.4 359.6L830.4 358.2L831.4 358.1L832.4 356.9L833.4 357.2L834.4 356.5L835.4 354.8L836.4 355.2L837.4 353.4L838.4 352.6L839.4 353.0L840.4 351.7L841.4 351.5L842.4 351.1L843.4 349.5L844.4 350.0L845.4 348.6L846.4 348.2L847.4 347.4L848.4 347.4L849.4 346.7L850.4 345.3L851.4 344.4L852.4 344.0L853.4 343.5L854.4 342.3L855.4 341.8L856.4 342.1L857.4 341.3L858.4 341.0L859.4 340.2L860.4 339.2L861.4 337.5L862.4 336.2L863.4 335.0L864.4 333.0L865.4 330.6L866.4 328.1L867.4 325.2L868.4 323.3L869.4 319.9L870.4 317.6L871.4 315.5L872.4 312.6L873.4 309.1L874.4 306.5L875.4 305.1L876.4 302.1L877.4 301.5L878.4 301.5L879.4 300.8L880.4 299.7L881.4 299.0L882.4 298.7L883.4 299.2L884.4 298.3L885.4 298.8L886.4 298.1L887.4 298.0L888.4 296.1L889.4 295.9L890.4 295.3L891.4 295.6L892.4 295.2L893.4 294.4L894.4 294.9L895.4 293.8L896.4 293.9L897.4 293.5L898.4 294.1L899.4 293.2L900.4 292.7L901.4 292.0L902.4 292.4L903.4 292.4L904.4 292.2L905.4 292.3L906.4 291.8L907.4 290.6L908.4 290.1L909.4 290.8L910.4 290.5L911.4 289.8L912.4 290.0L913.4 289.2L914.4 288.5L915.4 288.0L916.4 287.4L917.4 288.1L918.4 288.3L919.4 288.0L920.4 287.0L921.4 287.0L922.4 287.2L923.4 286.7L924.4 286.0L925.4 285.3L926.4 285.2L927.4 284.3L928.4 284.0L929.4 284.4L930.4 284.6L931.4 283.6L932.4 283.1L933.4 282.8L934.4 282.7L935.4 283.1L936.4 282.4L937.4 283.1L938.4 281.7L939.4 281.9L940.4 282.2L941.4 282.0L942.4 282.8L943.4 282.8L944.4 283.0L945.4 282.5L946.4 281.6L947.4 282.5L948.4 282.4L949.4 282.3L950.4 281.9L951.4 282.5L952.4 282.8L953.4 281.4L954.4 282.2L955.4 281.6L956.4 281.7L957.4 282.2L958.4 282.2L959.4 281.6L960.4 280.8L961.4 281.9L962.4 280.8L963.4 281.1L964.4 281.9L965.4 281.2L966.4 281.2L967.4 282.4L968.4 282.6L969.4 281.7L970.4 282.0L971.4 282.1L972.4 282.0L973.4 282.5L974.4 283.9L975.4 282.7L976.4 283.1L977.4 283.4L978.4 283.5L979.4 284.5L980.4 285.3L981.4 285.8L982.4 285.9L983.4 286.6L984.4 285.6L985.4 286.4L986.4 287.9L987.4 286.7L988.4 287.3L989.4 287.8L990.4 287.6L991.4 288.1L992.4 287.4L993.4 287.6L994.4 288.7L995.4 287.3L996.4 288.4L997.4 287.0L998.4 288.2L999.4 287.4L1000.4 287.2L1001.4 286.1L1002.4 285.7L1003.4 286.5L1004.4 285.3L1005.4 284.9L1006.4 285.6L1007.4 285.3L1008.4 283.6L1009.4 284.7L1010.4 283.7L1011.4 283.1L1012.4 282.4L1013.4 282.6L1014.4 283.4L1015.4 282.0L1016.4 281.5L1017.4 281.2L1018.4 280.8L1019.4 280.7L1020.4 281.0L1021.4 278.6L1022.4 277.4L1023.4 277.1L1024.4 275.5L1025.4 273.9L1026.4 271.1L1027.4 269.8L1028.4 269.4L1029.4 267.3L1030.4 266.3L1031.4 264.5L1032.4 262.8L1033.4 262.1L1034.4 261.4L1035.4 259.6L1036.4 257.4L1037.4 255.6L1038.4 254.5L1039.4 254.8L1040.4 256.4L1041.4 256.1L1042.4 254.0L1043.4 253.3L1044.4 252.5L1045.4 250.8L1046.4 248.3L1047.4 248.3L1048.4 247.0L1049.4 245.1L1050.4 244.5L1051.4 243.7L1052.4 242.9L1053.4 243.8L1054.4 242.4L1055.4 242.7L1056.4 241.0L1057.4 240.4L1058.4 241.3L1059.4 240.8L1060.4 240.8L1061.4 240.0L1062.4 239.4L1063.4 239.5L1064.4 238.1L1065.4 238.5L1066.4 238.0L1067.4 237.3L1068.4 237.7L1069.4 237.0L1070.4 237.0L1071.4 236.6L1072.4 236.2L1073.4 236.1L1074.4 236.2L1075.4 236.6L1076.4 236.3L1077.4 236.0L1078.4 235.7L1079.4 234.6L1080.4 235.5L1081.4 234.2L1082.4 233.8L1083.4 234.2L1084.4 234.4L1085.4 233.7L1086.4 234.0L1087.4 233.4L1088.4 234.4L1089.4 233.5L1090.4 233.6L1091.4 233.7L1092.4 234.3L1093.4 234.5L1094.4 233.8L1095.4 233.7L1096.4 234.0L1097.4 233.0L1098.4 233.5L1099.4 234.0L1100.4 233.7L1101.4 232.4L1102.4 233.4L1103.4 232.4L1104.4 233.2L1105.4 232.0L1106.4 231.6L1107.4 232.1L1108.4 232.6L1109.4 232.0L1110.4 232.8L1111.4 232.8L1112.4 232.4L1113.4 232.6L1114.4 233.1L1115.4 233.2L1116.4 233.3L1117.4 233.9L1118.4 234.3L1119.4 233.9L1120.4 233.1L1121.4 233.2L1122.4 233.4L1123.4 233.7L1124.4 232.8L1125.4 232.6L1126.4 232.8L1127.4 232.6L1128.4 232.0L1129.4 232.7L1130.4 233.1L1131.4 232.2L1132.4 232.3L1133.4 232.2L1134.4 231.9L1135.4 231.8L1136.4 230.8L1137.4 230.9L1138.4 229.7L1139.4 230.7L1140.4 229.7L1141.4 229.6L1142.4 230.0L1143.4 228.8L1144.4 228.5L1145.4 229.2L1146.4 228.7L1147.4 227.6L1148.4 227.3L1149.4 227.7L1150.4 227.0L1151.2 227.7" fill="none" stroke="#1a1aee" stroke-width="2.5" stroke-linejoin="round" stroke-linecap="round"/><path d="M51.4 514.9L52.4 515.1L53.4 513.9L54.4 514.3L55.4 515.7L56.4 515.4L57.4 514.7L58.4 513.3L59.4 512.6L60.4 511.2L61.4 509.6L62.4 507.2L63.4 505.9L64.4 504.1L65.4 503.0L66.4 502.1L67.4 500.9L68.4 499.1L69.4 497.8L70.4 496.4L71.4 495.0L72.4 493.9L73.4 493.6L74.4 492.5L75.4 491.7L76.4 491.8L77.4 490.8L78.4 490.5L79.4 489.7L80.4 489.2L81.4 489.5L82.4 489.0L83.4 489.4L84.4 490.1L85.4 489.5L86.4 488.6L87.4 489.6L88.4 489.4L89.4 489.2L90.4 489.3L91.4 489.0L92.4 489.0L93.4 488.2L94.4 489.0L95.4 488.9L96.4 487.4L97.4 488.2L98.4 487.9L99.4 487.2L100.4 486.9L101.4 486.5L102.4 486.8L103.4 485.8L104.4 485.9L105.4 484.7L106.4 485.1L107.4 484.7L108.4 483.5L109.4 483.2L110.4 483.2L111.4 482.2L112.4 480.9L113.4 479.5L114.4 478.6L115.4 478.2L116.4 476.3L117.4 476.4L118.4 474.3L119.4 474.3L120.4 472.1L121.4 471.9L122.4 470.2L123.4 468.6L124.4 467.3L125.4 466.0L126.4 464.5L127.4 462.6L128.4 460.9L129.4 459.8L130.4 458.8L131.4 456.7L132.4 454.3L133.4 454.0L134.4 452.3L135.4 451.0L136.4 448.4L137.4 447.9L138.4 445.2L139.4 444.4L140.4 442.0L141.4 440.4L142.4 439.9L143.4 437.0L144.4 435.8L145.4 434.5L146.4 431.5L147.4 429.3L148.4 428.1L149.4 423.9L150.4 420.5L151.4 415.2L152.4 411.4L153.4 406.8L154.4 403.6L155.4 398.5L156.4 395.6L157.4 389.9L158.4 387.0L159.4 382.2L160.4 378.6L161.4 374.8L162.4 369.9L163.4 367.2L164.4 367.1L165.4 366.0L166.4 365.2L167.4 366.5L168.4 364.9L169.4 364.2L170.4 363.9L171.4 363.4L172.4 362.7L173.4 360.6L174.4 359.6L175.4 357.5L176.4 356.3L177.4 354.5L178.4 351.7L179.4 349.0L180.4 345.9L181.4 343.3L182.4 340.6L183.4 338.0L184.4 335.6L185.4 334.4L186.4 332.1L187.4 330.1L188.4 329.1L189.4 327.9L190.4 325.0L191.4 324.3L192.4 322.6L193.4 321.7L194.4 320.3L195.4 321.0L196.4 319.3L197.4 319.3L198.4 318.2L199.4 316.6L200.4 315.8L201.4 313.1L202.4 310.8L203.4 308.6L204.4 307.2L205.4 306.0L206.4 305.8L207.4 304.6L208.4 304.2L209.4 303.1L210.4 302.0L211.4 299.5L212.4 298.8L213.4 297.5L214.4 297.0L215.4 296.0L216.4 295.2L217.4 293.9L218.4 292.1L219.4 291.3L220.4 290.4L221.4 288.5L222.4 287.7L223.4 287.4L224.4 286.2L225.4 286.1L226.4 284.4L227.4 283.6L228.4 283.2L229.4 282.8L230.4 282.2L231.4 282.2L232.4 281.5L233.4 280.6L234.4 280.5L235.4 279.3L236.4 280.0L237.4 279.7L238.4 279.2L239.4 278.8L240.4 279.1L241.4 279.5L242.4 279.0L243.4 279.9L244.4 280.4L245.4 280.2L246.4 280.5L247.4 282.0L248.4 281.7L249.4 282.2L250.4 283.1L251.4 282.7L252.4 282.2L253.4 283.3L254.4 282.2L255.4 281.5L256.4 282.4L257.4 281.2L258.4 281.3L259.4 281.9L260.4 281.5L261.4 280.4L262.4 281.2L263.4 281.3L264.4 281.7L265.4 281.5L266.4 282.5L267.4 282.2L268.4 283.0L269.4 283.6L270.4 285.0L271.4 284.1L272.4 285.6L273.4 285.1L274.4 286.2L275.4 286.3L276.4 286.8L277.4 287.7L278.4 287.6L279.4 287.6L280.4 288.0L281.4 288.3L282.4 289.9L283.4 289.9L284.4 290.7L285.4 290.6L286.4 289.9L287.4 291.2L288.4 291.6L289.4 291.8L290.4 291.6L291.4 291.6L292.4 291.8L293.4 292.5L294.4 291.6L295.4 292.0L296.4 291.9L297.4 292.6L298.4 292.2L299.4 292.3L300.4 292.1L301.4 291.1L302.4 290.8L303.4 291.1L304.4 290.5L305.4 290.6L306.4 290.8L307.4 291.0L308.4 290.4L309.4 290.7L310.4 289.6L311.4 290.2L312.4 291.6L313.4 290.8L314.4 291.9L315.4 292.1L316.4 292.8L317.4 294.9L318.4 295.7L319.4 295.8L320.4 295.5L321.4 296.4L322.4 296.9L323.4 298.2L324.4 298.7L325.4 298.8L326.4 299.1L327.4 298.5L328.4 298.9L329.4 298.9L330.4 297.8L331.4 295.6L332.4 295.0L333.4 294.0L334.4 291.9L335.4 291.6L336.4 289.6L337.4 288.8L338.4 287.0L339.4 286.7L340.4 285.0L341.4 283.4L342.4 281.4L343.4 280.6L344.4 278.8L345.4 278.6L346.4 277.8L347.4 275.4L348.4 274.7L349.4 273.6L350.4 272.5L351.4 272.2L352.4 272.0L353.4 271.5L354.4 271.1L355.4 272.0L356.4 271.2L357.4 272.2L358.4 272.5L359.4 273.0L360.4 273.6L361.4 272.9L362.4 273.7L363.4 273.6L364.4 274.2L365.4 274.8L366.4 274.4L367.4 273.6L368.4 274.5L369.4 275.1L370.4 275.5L371.4 275.3L372.4 275.7L373.4 274.6L374.4 276.2L375.4 276.1L376.4 276.1L377.4 276.7L378.4 276.9L379.4 275.8L380.4 277.1L381.4 277.3L382.4 276.5L383.4 277.6L384.4 277.6L385.4 277.2L386.4 278.4L387.4 277.6L388.4 278.6L389.4 278.6L390.4 278.6L391.4 279.3L392.4 279.5L393.4 279.4L394.4 281.0L395.4 280.0L396.4 280.4L397.4 282.1L398.4 283.8L399.4 284.7L400.4 285.9L401.4 286.5L402.4 287.5L403.4 287.3L404.4 287.4L405.4 287.8L406.4 287.1L407.4 287.2L408.4 288.2L409.4 287.4L410.4 288.5L411.4 288.9L412.4 288.6L413.4 289.4L414.4 290.1L415.4 290.6L416.4 289.9L417.4 290.5L418.4 291.2L419.4 291.8L420.4 291.8L421.4 291.7L422.4 292.7L423.4 293.4L424.4 292.5L425.4 292.8L426.4 292.6L427.4 292.7L428.4 293.4L429.4 292.5L430.4 293.1L431.4 292.9L432.4 293.0L433.4 293.7L434.4 292.5L435.4 293.9L436.4 293.3L437.4 294.3L438.4 295.0L439.4 295.3L440.4 295.5L441.4 296.9L442.4 296.3L443.4 297.9L444.4 298.2L445.4 299.1L446.4 300.2L447.4 300.8L448.4 301.2L449.4 301.3L450.4 301.8L451.4 302.8L452.4 303.1L453.4 303.9L454.4 305.7L455.4 305.1L456.4 307.0L457.4 307.3L458.4 308.8L459.4 310.5L460.4 312.0L461.4 314.4L462.4 315.6L463.4 317.5L464.4 318.0L465.4 319.6L466.4 320.2L467.4 320.0L468.4 320.7L469.4 321.6L470.4 321.1L471.4 321.1L472.4 321.8L473.4 322.2L474.4 323.6L475.4 324.0L476.4 324.8L477.4 326.4L478.4 326.4L479.4 328.4L480.4 329.4L481.4 331.3L482.4 334.9L483.4 337.2L484.4 340.8L485.4 342.5L486.4 342.9L487.4 344.1L488.4 345.4L489.4 345.8L490.4 346.6L491.4 347.6L492.4 348.5L493.4 349.1L494.4 350.1L495.4 349.7L496.4 351.0L497.4 351.8L498.4 352.0L499.4 352.8L500.4 353.1L501.4 355.1L502.4 354.8L503.4 355.6L504.4 357.0L505.4 356.7L506.4 358.8L507.4 358.3L508.4 358.9L509.4 360.2L510.4 360.9L511.4 362.5L512.4 363.0L513.4 364.3L514.4 365.0L515.4 365.9L516.4 366.0L517.4 367.5L518.4 367.3L519.4 367.8L520.4 369.0L521.4 368.8L522.4 369.8L523.4 371.4L524.4 370.7L525.4 371.4L526.4 372.2L527.4 373.1L528.4 374.1L529.4 374.6L530.4 375.5L531.4 376.1L532.4 376.8L533.4 378.2L534.4 378.4L535.4 379.0L536.4 380.2L537.4 379.7L538.4 380.4L539.4 382.1L540.4 382.1L541.4 383.2L542.4 382.8L543.4 384.1L544.4 385.2L545.4 385.1L546.4 386.5L547.4 386.9L548.4 387.3L549.4 389.0L550.4 388.8L551.4 389.6L552.4 390.6L553.4 390.8L554.4 392.2L555.4 392.5L556.4 393.0L557.4 393.5L558.4 394.7L559.4 395.2L560.4 395.5L561.4 395.4L562.4 395.8L563.4 396.4L564.4 396.1L565.4 396.6L566.4 398.6L567.4 397.7L568.4 399.4L569.4 399.5L570.4 400.3L571.4 399.4L572.4 400.3L573.4 401.6L574.4 401.2L575.4 402.9L576.4 404.9L577.4 406.2L578.4 407.4L579.4 408.8L580.4 408.4L581.4 410.4L582.4 410.4L583.4 409.9L584.4 411.8L585.4 411.2L586.4 412.1L587.4 412.7L588.4 412.4L589.4 413.4L590.4 413.1L591.4 413.7L592.4 415.2L593.4 415.3L594.4 415.2L595.4 415.8L596.4 416.4L597.4 415.6L598.4 416.4L599.4 416.2L600.4 416.5L601.4 416.8L602.4 417.4L603.4 417.6L604.4 418.3L605.4 419.1L606.4 420.1L607.4 421.0L608.4 421.5L609.4 421.6L610.4 421.6L611.4 422.4L612.4 421.3L613.4 421.0L614.4 421.7L615.4 420.7L616.4 419.1L617.4 418.4L618.4 417.1L619.4 416.2L620.4 415.1L621.4 414.1L622.4 413.9L623.4 413.2L624.4 412.2L625.4 411.6L626.4 410.9L627.4 411.3L628.4 411.3L629.4 409.8L630.4 410.1L631.4 409.6L632.4 409.1L633.4 407.7L634.4 408.1L635.4 407.2L636.4 406.9L637.4 407.4L638.4 407.5L639.4 407.4L640.4 407.5L641.4 407.3L642.4 406.8L643.4 406.1L644.4 407.2L645.4 407.2L646.4 407.1L647.4 406.4L648.4 405.1L649.4 404.7L650.4 403.7L651.4 403.6L652.4 402.4L653.4 400.5L654.4 400.4L655.4 399.1L656.4 397.6L657.4 395.5L658.4 393.9L659.4 392.6L660.4 392.5L661.4 391.4L662.4 389.8L663.4 389.9L664.4 388.5L665.4 387.5L666.4 386.8L667.4 386.5L668.4 385.4L669.4 385.0L670.4 383.4L671.4 383.7L672.4 382.3L673.4 382.6L674.4 380.9L675.4 380.4L676.4 380.1L677.4 379.3L678.4 378.9L679.4 379.0L680.4 377.3L681.4 377.8L682.4 377.2L683.4 377.0L684.4 376.1L685.4 375.8L686.4 375.3L687.4 375.2L688.4 374.6L689.4 374.3L690.4 374.5L691.4 373.8L692.4 374.0L693.4 373.9L694.4 373.3L695.4 372.9L696.4 373.4L697.4 373.6L698.4 372.4L699.4 372.9L700.4 372.8L701.4 372.9L702.4 372.4L703.4 371.5L704.4 371.1L705.4 371.9L706.4 370.7L707.4 370.0L708.4 371.0L709.4 369.6L710.4 369.5L711.4 369.2L712.4 368.8L713.4 369.2L714.4 368.2L715.4 367.9L716.4 367.5L717.4 367.7L718.4 366.0L719.4 366.5L720.4 365.3L721.4 365.0L722.4 365.3L723.4 364.6L724.4 363.8L725.4 364.4L726.4 364.7L727.4 364.1L728.4 363.6L729.4 363.9L730.4 364.0L731.4 362.6L732.4 362.7L733.4 363.6L734.4 363.4L735.4 362.1L736.4 362.8L737.4 362.9L738.4 362.3L739.4 362.3L740.4 361.9L741.4 361.3L742.4 361.1L743.4 360.8L744.4 361.7L745.4 360.8L746.4 361.6L747.4 361.2L748.4 361.4L749.4 362.4L750.4 361.6L751.4 362.0L752.4 362.1L753.4 362.1L754.4 362.3L755.4 363.1L756.4 363.7L757.4 362.8L758.4 364.3L759.4 364.0L760.4 363.1L761.4 364.3L762.4 363.9L763.4 364.2L764.4 363.7L765.4 364.4L766.4 364.5L767.4 365.0L768.4 364.7L769.4 365.0L770.4 365.0L771.4 364.2L772.4 363.9L773.4 364.6L774.4 364.1L775.4 364.1L776.4 364.4L777.4 364.7L778.4 364.8L779.4 364.8L780.4 365.3L781.4 364.1L782.4 364.9L783.4 364.3L784.4 365.3L785.4 364.8L786.4 364.0L787.4 363.9L788.4 364.0L789.4 363.2L790.4 363.3L791.4 361.8L792.4 361.0L793.4 361.2L794.4 359.9L795.4 358.3L796.4 358.4L797.4 357.0L798.4 357.2L799.4 355.9L800.4 355.3L801.4 354.6L802.4 353.1L803.4 352.9L804.4 350.4L805.4 350.0L806.4 349.8L807.4 347.6L808.4 347.7L809.4 347.4L810.4 346.0L811.4 345.4L812.4 343.2L813.4 343.0L814.4 342.2L815.4 341.0L816.4 340.1L817.4 339.8L818.4 337.9L819.4 336.9L820.4 336.9L821.4 336.7L822.4 335.7L823.4 334.7L824.4 333.3L825.4 333.6L826.4 331.6L827.4 331.2L828.4 331.5L829.4 331.1L830.4 329.7L831.4 329.9L832.4 328.0L833.4 328.2L834.4 326.8L835.4 326.4L836.4 325.7L837.4 324.8L838.4 324.9L839.4 324.4L840.4 323.5L841.4 323.5L842.4 322.0L843.4 322.1L844.4 321.5L845.4 320.7L846.4 320.9L847.4 319.0L848.4 318.8L849.4 318.1L850.4 317.2L851.4 317.4L852.4 316.0L853.4 315.2L854.4 314.3L855.4 313.5L856.4 313.5L857.4 312.4L858.4 311.3L859.4 309.6L860.4 309.3L861.4 307.5L862.4 306.7L863.4 304.4L864.4 302.8L865.4 300.2L866.4 296.6L867.4 293.2L868.4 289.6L869.4 286.9L870.4 284.0L871.4 280.9L872.4 277.6L873.4 274.6L874.4 272.7L875.4 270.6L876.4 268.5L877.4 267.4L878.4 265.7L879.4 265.4L880.4 265.7L881.4 265.4L882.4 264.3L883.4 263.9L884.4 263.7L885.4 262.7L886.4 263.0L887.4 262.1L888.4 262.5L889.4 261.5L890.4 261.4L891.4 260.9L892.4 260.6L893.4 260.1L894.4 260.6L895.4 259.9L896.4 259.1L897.4 258.9L898.4 259.2L899.4 258.7L900.4 258.3L901.4 258.5L902.4 256.9L903.4 257.4L904.4 257.1L905.4 256.6L906.4 257.2L907.4 256.9L908.4 255.8L909.4 255.9L910.4 255.9L911.4 255.6L912.4 254.9L913.4 255.4L914.4 254.5L915.4 254.0L916.4 254.6L917.4 254.4L918.4 253.9L919.4 253.8L920.4 254.4L921.4 253.9L922.4 253.1L923.4 253.7L924.4 253.0L925.4 252.5L926.4 252.6L927.4 252.6L928.4 252.6L929.4 252.0L930.4 251.8L931.4 251.1L932.4 250.3L933.4 250.8L934.4 250.0L935.4 251.2L936.4 250.1L937.4 250.3L938.4 250.4L939.4 249.4L940.4 250.3L941.4 249.4L942.4 249.0L943.4 249.9L944.4 249.6L945.4 250.5L946.4 249.7L947.4 249.2L948.4 249.1L949.4 249.0L950.4 249.6L951.4 249.8L952.4 248.6L953.4 248.8L954.4 248.7L955.4 249.1L956.4 248.9L957.4 248.5L958.4 247.9L959.4 247.6L960.4 246.8L961.4 247.3L962.4 246.5L963.4 246.8L964.4 247.7L965.4 247.5L966.4 248.0L967.4 247.8L968.4 247.8L969.4 248.6L970.4 249.0L971.4 248.9L972.4 250.3L973.4 250.9L974.4 250.1L975.4 250.6L976.4 251.9L977.4 252.1L978.4 251.8L979.4 252.9L980.4 252.8L981.4 254.4L982.4 254.5L983.4 254.9L984.4 254.8L985.4 255.7L986.4 256.2L987.4 256.3L988.4 256.3L989.4 256.5L990.4 257.3L991.4 257.6L992.4 257.2L993.4 256.4L994.4 256.2L995.4 254.7L996.4 254.2L997.4 254.5L998.4 252.9L999.4 252.6L1000.4 253.4L1001.4 252.2L1002.4 252.0L1003.4 252.2L1004.4 252.8L1005.4 251.3L1006.4 252.6L1007.4 251.5L1008.4 251.8L1009.4 251.5L1010.4 250.7L1011.4 251.8L1012.4 250.3L1013.4 251.1L1014.4 251.0L1015.4 250.1L1016.4 250.6L1017.4 248.9L1018.4 248.8L1019.4 249.0L1020.4 248.0L1021.4 248.8L1022.4 247.8L1023.4 247.2L1024.4 245.2L1025.4 243.4L1026.4 243.3L1027.4 240.6L1028.4 239.1L1029.4 236.6L1030.4 235.2L1031.4 232.9L1032.4 230.4L1033.4 228.4L1034.4 227.1L1035.4 226.1L1036.4 223.5L1037.4 222.3L1038.4 221.3L1039.4 220.3L1040.4 219.4L1041.4 218.4L1042.4 217.8L1043.4 215.7L1044.4 216.0L1045.4 213.7L1046.4 213.0L1047.4 212.4L1048.4 213.0L1049.4 212.2L1050.4 212.5L1051.4 212.3L1052.4 211.9L1053.4 211.1L1054.4 210.3L1055.4 211.0L1056.4 210.4L1057.4 209.3L1058.4 209.7L1059.4 208.6L1060.4 208.4L1061.4 209.2L1062.4 209.2L1063.4 209.3L1064.4 209.0L1065.4 207.8L1066.4 208.7L1067.4 208.9L1068.4 208.3L1069.4 207.9L1070.4 207.5L1071.4 207.0L1072.4 207.8L1073.4 208.3L1074.4 206.9L1075.4 208.0L1076.4 208.0L1077.4 207.2L1078.4 208.0L1079.4 206.9L1080.4 207.2L1081.4 207.7L1082.4 208.2L1083.4 207.8L1084.4 207.2L1085.4 208.6L1086.4 208.2L1087.4 208.6L1088.4 207.9L1089.4 208.2L1090.4 208.0L1091.4 208.4L1092.4 209.0L1093.4 209.1L1094.4 209.7L1095.4 210.1L1096.4 209.5L1097.4 210.6L1098.4 210.2L1099.4 209.8L1100.4 209.5L1101.4 210.8L1102.4 210.3L1103.4 209.3L1104.4 210.3L1105.4 209.7L1106.4 209.8L1107.4 210.3L1108.4 209.5L1109.4 209.5L1110.4 209.9L1111.4 210.5L1112.4 209.2L1113.4 210.4L1114.4 210.2L1115.4 209.3L1116.4 210.1L1117.4 210.1L1118.4 210.3L1119.4 210.1L1120.4 210.0L1121.4 210.5L1122.4 210.2L1123.4 210.6L1124.4 210.5L1125.4 210.0L1126.4 210.2L1127.4 210.3L1128.4 210.2L1129.4 210.4L1130.4 210.5L1131.4 209.6L1132.4 209.9L1133.4 209.3L1134.4 208.9L1135.4 208.5L1136.4 209.6L1137.4 209.3L1138.4 208.9L1139.4 207.5L1140.4 207.2L1141.4 206.9L1142.4 206.9L1143.4 206.8L1144.4 205.9L1145.4 206.2L1146.4 206.3L1147.4 206.2L1148.4 204.9L1149.4 204.3L1150.4 205.4L1151.2 204.8" fill="none" stroke="#e8a41a" stroke-width="2.5" stroke-linejoin="round" stroke-linecap="round"/><path d="M51.4 489.9L52.4 491.2L53.4 491.3L54.4 490.7L55.4 491.2L56.4 491.1L57.4 491.0L58.4 490.5L59.4 488.5L60.4 487.3L61.4 487.4L62.4 485.5L63.4 484.6L64.4 482.0L65.4 481.3L66.4 480.4L67.4 478.5L68.4 478.4L69.4 477.0L70.4 474.2L71.4 472.9L72.4 472.4L73.4 471.8L74.4 469.7L75.4 468.4L76.4 467.8L77.4 466.5L78.4 466.4L79.4 466.4L80.4 466.2L81.4 465.5L82.4 465.3L83.4 465.1L84.4 465.3L85.4 464.9L86.4 464.4L87.4 465.6L88.4 465.0L89.4 465.0L90.4 464.1L91.4 465.2L92.4 464.8L93.4 463.4L94.4 463.5L95.4 464.0L96.4 463.8L97.4 463.9L98.4 462.9L99.4 463.4L100.4 462.9L101.4 462.0L102.4 462.1L103.4 462.2L104.4 461.8L105.4 460.6L106.4 460.1L107.4 458.4L108.4 458.0L109.4 458.0L110.4 456.5L111.4 455.3L112.4 455.0L113.4 454.4L114.4 453.5L115.4 452.1L116.4 451.1L117.4 450.2L118.4 449.5L119.4 448.0L120.4 446.7L121.4 445.9L122.4 444.3L123.4 443.5L124.4 443.6L125.4 443.7L126.4 442.5L127.4 440.6L128.4 438.7L129.4 437.8L130.4 437.0L131.4 434.8L132.4 432.5L133.4 431.0L134.4 427.9L135.4 426.3L136.4 425.1L137.4 422.6L138.4 420.8L139.4 419.1L140.4 418.2L141.4 417.7L142.4 415.5L143.4 416.4L144.4 416.2L145.4 415.9L146.4 415.2L147.4 414.4L148.4 412.6L149.4 410.8L150.4 408.2L151.4 405.0L152.4 403.5L153.4 400.0L154.4 396.4L155.4 393.8L156.4 390.7L157.4 386.9L158.4 382.0L159.4 377.3L160.4 372.5L161.4 367.7L162.4 362.8L163.4 355.0L164.4 348.9L165.4 344.0L166.4 343.2L167.4 342.8L168.4 342.2L169.4 341.9L170.4 341.7L171.4 340.2L172.4 340.4L173.4 339.3L174.4 337.5L175.4 336.5L176.4 335.5L177.4 335.6L178.4 333.5L179.4 332.0L180.4 331.1L181.4 328.9L182.4 326.5L183.4 324.6L184.4 323.0L185.4 320.1L186.4 316.9L187.4 313.6L188.4 309.0L189.4 304.8L190.4 301.6L191.4 299.2L192.4 298.3L193.4 297.0L194.4 295.4L195.4 294.0L196.4 294.1L197.4 292.4L198.4 290.8L199.4 290.4L200.4 289.6L201.4 287.2L202.4 286.3L203.4 285.6L204.4 285.6L205.4 283.7L206.4 283.6L207.4 282.5L208.4 281.1L209.4 279.2L210.4 279.1L211.4 277.5L212.4 275.7L213.4 273.9L214.4 273.3L215.4 271.7L216.4 270.6L217.4 269.0L218.4 268.2L219.4 266.2L220.4 265.5L221.4 265.5L222.4 264.4L223.4 262.8L224.4 263.0L225.4 261.5L226.4 261.9L227.4 261.0L228.4 259.9L229.4 259.0L230.4 257.9L231.4 258.6L232.4 256.5L233.4 257.1L234.4 256.6L235.4 255.3L236.4 254.1L237.4 254.8L238.4 254.5L239.4 253.7L240.4 253.3L241.4 253.0L242.4 253.1L243.4 253.0L244.4 254.0L245.4 254.0L246.4 254.1L247.4 254.5L248.4 255.9L249.4 255.8L250.4 256.6L251.4 256.7L252.4 257.6L253.4 257.6L254.4 256.0L255.4 256.2L256.4 256.2L257.4 257.1L258.4 256.6L259.4 255.7L260.4 255.4L261.4 256.1L262.4 256.4L263.4 256.7L264.4 256.0L265.4 257.2L266.4 257.2L267.4 257.3L268.4 258.6L269.4 257.9L270.4 259.1L271.4 258.5L272.4 259.0L273.4 260.6L274.4 259.9L275.4 261.2L276.4 261.3L277.4 262.1L278.4 261.8L279.4 262.1L280.4 262.5L281.4 263.7L282.4 263.7L283.4 264.8L284.4 265.1L285.4 264.4L286.4 265.4L287.4 265.1L288.4 265.3L289.4 265.7L290.4 267.1L291.4 267.1L292.4 267.2L293.4 266.4L294.4 266.8L295.4 267.0L296.4 266.2L297.4 266.4L298.4 265.8L299.4 265.4L300.4 265.6L301.4 266.5L302.4 265.9L303.4 266.3L304.4 265.4L305.4 264.9L306.4 265.5L307.4 265.4L308.4 264.0L309.4 265.1L310.4 264.2L311.4 264.4L312.4 266.1L313.4 265.2L314.4 266.2L315.4 268.1L316.4 268.0L317.4 268.2L318.4 269.0L319.4 269.7L320.4 271.1L321.4 270.7L322.4 272.6L323.4 272.4L324.4 273.8L325.4 274.0L326.4 273.2L327.4 273.1L328.4 273.1L329.4 272.0L330.4 272.3L331.4 270.5L332.4 269.6L333.4 270.1L334.4 268.0L335.4 267.5L336.4 266.1L337.4 264.7L338.4 263.1L339.4 263.1L340.4 261.8L341.4 260.5L342.4 257.8L343.4 256.7L344.4 256.0L345.4 255.1L346.4 252.9L347.4 251.7L348.4 250.2L349.4 248.3L350.4 247.6L351.4 246.3L352.4 245.5L353.4 244.9L354.4 245.3L355.4 246.9L356.4 246.7L357.4 247.7L358.4 248.5L359.4 249.5L360.4 249.0L361.4 249.2L362.4 249.5L363.4 249.7L364.4 250.8L365.4 251.1L366.4 250.4L367.4 250.7L368.4 251.3L369.4 251.5L370.4 251.8L371.4 251.4L372.4 251.3L373.4 251.8L374.4 251.8L375.4 252.7L376.4 252.2L377.4 252.4L378.4 253.4L379.4 253.0L380.4 253.9L381.4 253.5L382.4 254.2L383.4 253.1L384.4 253.7L385.4 254.2L386.4 253.1L387.4 254.6L388.4 253.6L389.4 254.8L390.4 255.5L391.4 255.8L392.4 255.6L393.4 255.9L394.4 257.3L395.4 258.6L396.4 258.3L397.4 259.9L398.4 259.5L399.4 261.8L400.4 261.5L401.4 262.9L402.4 264.5L403.4 264.6L404.4 264.9L405.4 264.9L406.4 264.7L407.4 264.7L408.4 263.9L409.4 264.4L410.4 264.2L411.4 265.4L412.4 265.6L413.4 265.4L414.4 265.5L415.4 267.4L416.4 267.6L417.4 267.7L418.4 268.1L419.4 269.0L420.4 268.8L421.4 269.0L422.4 269.1L423.4 269.1L424.4 268.9L425.4 270.0L426.4 269.7L427.4 270.0L428.4 269.3L429.4 269.9L430.4 269.6L431.4 269.7L432.4 270.1L433.4 271.1L434.4 270.6L435.4 270.9L436.4 271.5L437.4 271.4L438.4 271.5L439.4 272.9L440.4 273.5L441.4 274.3L442.4 274.6L443.4 275.7L444.4 276.4L445.4 276.3L446.4 277.5L447.4 278.1L448.4 278.5L449.4 279.5L450.4 280.6L451.4 281.9L452.4 282.7L453.4 282.5L454.4 284.0L455.4 283.8L456.4 284.7L457.4 286.3L458.4 288.2L459.4 288.5L460.4 290.9L461.4 292.4L462.4 292.8L463.4 294.6L464.4 295.7L465.4 295.6L466.4 296.8L467.4 297.5L468.4 297.8L469.4 298.8L470.4 299.4L471.4 300.1L472.4 300.1L473.4 300.0L474.4 300.5L475.4 300.9L476.4 301.9L477.4 302.7L478.4 302.2L479.4 304.0L480.4 305.2L481.4 306.5L482.4 309.5L483.4 312.0L484.4 316.1L485.4 317.9L486.4 321.9L487.4 323.2L488.4 323.8L489.4 323.8L490.4 325.2L491.4 325.5L492.4 324.4L493.4 325.7L494.4 326.2L495.4 326.6L496.4 327.3L497.4 327.5L498.4 329.1L499.4 329.9L500.4 329.8L501.4 331.4L502.4 331.6L503.4 332.1L504.4 333.2L505.4 333.7L506.4 335.9L507.4 337.0L508.4 336.7L509.4 338.6L510.4 339.4L511.4 340.0L512.4 341.3L513.4 342.1L514.4 343.6L515.4 343.0L516.4 343.8L517.4 344.5L518.4 344.0L519.4 345.2L520.4 345.4L521.4 346.1L522.4 345.6L523.4 346.3L524.4 347.3L525.4 347.6L526.4 348.9L527.4 349.2L528.4 350.8L529.4 351.8L530.4 352.8L531.4 353.9L532.4 354.0L533.4 354.7L534.4 355.9L535.4 356.5L536.4 356.8L537.4 357.1L538.4 357.5L539.4 357.8L540.4 359.5L541.4 358.9L542.4 360.5L543.4 360.7L544.4 362.0L545.4 362.3L546.4 363.2L547.4 362.5L548.4 363.7L549.4 364.4L550.4 364.6L551.4 365.5L552.4 365.9L553.4 366.7L554.4 366.5L555.4 367.8L556.4 368.4L557.4 368.8L558.4 369.6L559.4 370.9L560.4 371.4L561.4 371.7L562.4 372.5L563.4 372.7L564.4 373.0L565.4 373.2L566.4 374.2L567.4 375.2L568.4 376.0L569.4 376.4L570.4 376.2L571.4 377.4L572.4 377.1L573.4 378.3L574.4 378.7L575.4 381.2L576.4 383.8L577.4 384.8L578.4 386.3L579.4 387.7L580.4 388.3L581.4 388.6L582.4 388.7L583.4 389.9L584.4 390.6L585.4 391.1L586.4 392.4L587.4 392.5L588.4 393.2L589.4 393.9L590.4 393.9L591.4 393.8L592.4 394.5L593.4 394.6L594.4 394.8L595.4 395.0L596.4 394.8L597.4 395.4L598.4 395.6L599.4 396.3L600.4 396.3L601.4 396.7L602.4 396.9L603.4 397.4L604.4 397.6L605.4 397.7L606.4 398.1L607.4 399.4L608.4 400.1L609.4 400.0L610.4 399.7L611.4 401.0L612.4 400.5L613.4 400.4L614.4 399.4L615.4 399.6L616.4 399.2L617.4 397.8L618.4 396.7L619.4 396.2L620.4 394.2L621.4 394.1L622.4 394.0L623.4 392.8L624.4 391.4L625.4 391.1L626.4 390.1L627.4 388.8L628.4 388.1L629.4 388.6L630.4 387.1L631.4 386.5L632.4 387.5L633.4 386.9L634.4 386.5L635.4 386.6L636.4 386.8L637.4 385.5L638.4 386.0L639.4 385.7L640.4 385.5L641.4 384.3L642.4 384.6L643.4 383.9L644.4 384.3L645.4 383.5L646.4 384.3L647.4 384.1L648.4 382.9L649.4 382.3L650.4 382.9L651.4 381.8L652.4 381.3L653.4 379.1L654.4 379.6L655.4 378.2L656.4 376.7L657.4 375.9L658.4 375.5L659.4 374.7L660.4 372.8L661.4 372.6L662.4 371.0L663.4 371.3L664.4 369.5L665.4 369.3L666.4 368.1L667.4 367.0L668.4 365.6L669.4 365.1L670.4 363.6L671.4 362.8L672.4 362.9L673.4 361.4L674.4 361.2L675.4 359.6L676.4 359.6L677.4 358.8L678.4 357.5L679.4 356.5L680.4 356.3L681.4 355.8L682.4 354.6L683.4 354.2L684.4 353.5L685.4 353.9L686.4 353.9L687.4 352.4L688.4 351.7L689.4 352.3L690.4 352.2L691.4 352.1L692.4 351.3L693.4 350.6L694.4 351.2L695.4 349.9L696.4 350.7L697.4 349.6L698.4 349.9L699.4 349.9L700.4 349.5L701.4 349.0L702.4 348.9L703.4 349.7L704.4 349.0L705.4 349.0L706.4 348.2L707.4 348.9L708.4 348.0L709.4 348.2L710.4 348.5L711.4 348.3L712.4 346.5L713.4 347.3L714.4 347.0L715.4 345.7L716.4 345.3L717.4 345.2L718.4 345.3L719.4 344.0L720.4 344.4L721.4 343.9L722.4 342.6L723.4 343.6L724.4 342.0L725.4 342.0L726.4 342.7L727.4 341.5L728.4 341.9L729.4 341.4L730.4 341.8L731.4 342.2L732.4 342.2L733.4 340.6L734.4 340.5L735.4 341.6L736.4 340.1L737.4 340.3L738.4 339.8L739.4 339.5L740.4 339.2L741.4 339.9L742.4 339.9L743.4 339.7L744.4 339.8L745.4 339.4L746.4 338.9L747.4 339.3L748.4 340.0L749.4 339.7L750.4 339.3L751.4 339.3L752.4 341.1L753.4 341.0L754.4 341.0L755.4 341.8L756.4 342.0L757.4 342.2L758.4 341.7L759.4 342.3L760.4 342.6L761.4 342.3L762.4 343.5L763.4 342.9L764.4 343.3L765.4 343.5L766.4 343.6L767.4 343.6L768.4 343.7L769.4 342.9L770.4 344.1L771.4 342.8L772.4 344.0L773.4 343.9L774.4 343.9L775.4 342.6L776.4 342.6L777.4 343.8L778.4 343.2L779.4 343.1L780.4 344.1L781.4 342.8L782.4 343.9L783.4 344.1L784.4 343.8L785.4 344.3L786.4 344.6L787.4 344.5L788.4 342.6L789.4 342.8L790.4 341.4L791.4 341.8L792.4 339.8L793.4 338.9L794.4 338.5L795.4 338.1L796.4 336.4L797.4 335.1L798.4 335.4L799.4 334.6L800.4 333.9L801.4 332.2L802.4 331.5L803.4 330.3L804.4 329.9L805.4 328.7L806.4 327.8L807.4 327.6L808.4 326.9L809.4 325.4L810.4 323.8L811.4 323.9L812.4 322.7L813.4 322.7L814.4 321.4L815.4 320.7L816.4 319.6L817.4 318.5L818.4 318.3L819.4 317.4L820.4 315.7L821.4 314.7L822.4 314.2L823.4 313.6L824.4 312.1L825.4 311.7L826.4 311.0L827.4 309.1L828.4 309.2L829.4 307.8L830.4 306.2L831.4 305.1L832.4 304.2L833.4 303.2L834.4 303.0L835.4 301.8L836.4 301.1L837.4 300.0L838.4 300.7L839.4 299.4L840.4 299.1L841.4 298.4L842.4 299.5L843.4 298.4L844.4 298.8L845.4 298.4L846.4 298.1L847.4 297.3L848.4 296.9L849.4 296.3L850.4 295.5L851.4 293.8L852.4 293.8L853.4 293.3L854.4 293.3L855.4 292.3L856.4 291.6L857.4 291.0L858.4 289.7L859.4 289.9L860.4 288.7L861.4 287.6L862.4 287.0L863.4 287.1L864.4 285.6L865.4 284.2L866.4 282.8L867.4 282.5L868.4 280.9L869.4 279.8L870.4 276.6L871.4 273.7L872.4 269.5L873.4 263.3L874.4 258.6L875.4 255.5L876.4 251.9L877.4 249.5L878.4 248.0L879.4 248.0L880.4 247.4L881.4 246.2L882.4 245.8L883.4 246.7L884.4 246.0L885.4 244.9L886.4 245.7L887.4 244.0L888.4 244.1L889.4 244.6L890.4 244.0L891.4 243.0L892.4 243.6L893.4 242.8L894.4 242.9L895.4 242.6L896.4 241.5L897.4 241.6L898.4 241.1L899.4 241.4L900.4 240.8L901.4 240.4L902.4 239.9L903.4 239.5L904.4 237.6L905.4 236.7L906.4 236.9L907.4 236.7L908.4 236.0L909.4 235.7L910.4 235.2L911.4 235.7L912.4 235.2L913.4 234.6L914.4 233.4L915.4 234.3L916.4 233.4L917.4 232.6L918.4 232.5L919.4 232.8L920.4 231.4L921.4 231.3L922.4 231.4L923.4 232.0L924.4 231.6L925.4 231.7L926.4 230.7L927.4 230.5L928.4 230.3L929.4 230.0L930.4 229.8L931.4 230.0L932.4 230.0L933.4 229.0L934.4 229.1L935.4 228.4L936.4 228.3L937.4 228.5L938.4 228.5L939.4 228.4L940.4 229.0L941.4 227.7L942.4 228.6L943.4 229.3L944.4 229.0L945.4 228.9L946.4 228.7L947.4 228.9L948.4 229.8L949.4 229.8L950.4 229.3L951.4 229.6L952.4 229.4L953.4 229.1L954.4 228.1L955.4 227.9L956.4 228.2L957.4 227.2L958.4 227.6L959.4 226.9L960.4 226.5L961.4 226.5L962.4 225.9L963.4 226.3L964.4 226.4L965.4 225.9L966.4 226.3L967.4 226.6L968.4 227.8L969.4 227.7L970.4 227.5L971.4 228.9L972.4 228.1L973.4 228.8L974.4 229.5L975.4 229.8L976.4 229.7L977.4 230.5L978.4 230.5L979.4 231.3L980.4 231.3L981.4 232.6L982.4 232.6L983.4 232.1L984.4 232.6L985.4 234.4L986.4 233.6L987.4 233.6L988.4 234.2L989.4 234.7L990.4 235.6L991.4 234.7L992.4 235.1L993.4 235.1L994.4 233.6L995.4 234.2L996.4 234.5L997.4 233.4L998.4 233.1L999.4 232.5L1000.4 233.3L1001.4 233.1L1002.4 231.6L1003.4 232.1L1004.4 231.7L1005.4 232.0L1006.4 230.9L1007.4 231.0L1008.4 230.9L1009.4 231.0L1010.4 231.4L1011.4 231.3L1012.4 231.1L1013.4 230.8L1014.4 229.8L1015.4 230.2L1016.4 230.5L1017.4 229.8L1018.4 229.9L1019.4 230.3L1020.4 228.7L1021.4 229.0L1022.4 226.7L1023.4 225.8L1024.4 225.1L1025.4 222.4L1026.4 221.2L1027.4 219.0L1028.4 217.5L1029.4 215.6L1030.4 212.5L1031.4 211.2L1032.4 210.3L1033.4 208.4L1034.4 206.7L1035.4 206.4L1036.4 204.2L1037.4 202.7L1038.4 200.7L1039.4 202.3L1040.4 202.4L1041.4 202.1L1042.4 201.2L1043.4 198.9L1044.4 198.2L1045.4 196.8L1046.4 196.3L1047.4 195.7L1048.4 194.1L1049.4 193.7L1050.4 193.8L1051.4 192.8L1052.4 191.8L1053.4 191.5L1054.4 191.6L1055.4 191.2L1056.4 191.4L1057.4 190.3L1058.4 190.1L1059.4 189.0L1060.4 189.1L1061.4 188.6L1062.4 189.0L1063.4 188.0L1064.4 187.7L1065.4 187.8L1066.4 187.8L1067.4 187.5L1068.4 187.9L1069.4 187.3L1070.4 188.4L1071.4 188.2L1072.4 188.1L1073.4 187.5L1074.4 188.1L1075.4 188.8L1076.4 188.8L1077.4 189.2L1078.4 189.4L1079.4 188.5L1080.4 188.9L1081.4 188.7L1082.4 188.4L1083.4 188.5L1084.4 188.7L1085.4 188.6L1086.4 189.4L1087.4 189.8L1088.4 189.8L1089.4 190.2L1090.4 189.8L1091.4 190.0L1092.4 191.0L1093.4 191.8L1094.4 191.3L1095.4 190.9L1096.4 191.2L1097.4 191.8L1098.4 192.3L1099.4 191.5L1100.4 191.6L1101.4 192.2L1102.4 192.6L1103.4 191.4L1104.4 191.7L1105.4 191.4L1106.4 190.5L1107.4 190.9L1108.4 190.6L1109.4 190.8L1110.4 191.7L1111.4 191.7L1112.4 190.7L1113.4 190.9L1114.4 192.1L1115.4 191.2L1116.4 191.6L1117.4 191.7L1118.4 191.4L1119.4 191.6L1120.4 192.0L1121.4 192.6L1122.4 193.6L1123.4 193.1L1124.4 192.5L1125.4 193.1L1126.4 192.4L1127.4 192.7L1128.4 192.3L1129.4 193.2L1130.4 192.1L1131.4 192.6L1132.4 192.2L1133.4 192.3L1134.4 191.7L1135.4 191.9L1136.4 190.9L1137.4 191.0L1138.4 190.6L1139.4 190.2L1140.4 190.0L1141.4 189.7L1142.4 189.2L1143.4 189.7L1144.4 189.0L1145.4 188.5L1146.4 187.4L1147.4 187.9L1148.4 187.0L1149.4 186.9L1150.4 187.0L1151.2 187.0" fill="none" stroke="#e8141a" stroke-width="2.5" stroke-linejoin="round" stroke-linecap="round"/><path d="M51.4 542.2L52.4 544.1L53.4 543.1L54.4 542.8L55.4 541.4L56.4 541.6L57.4 543.8L58.4 541.8L59.4 535.0L60.4 521.8L61.4 519.2L62.4 516.4L63.4 509.8L64.4 513.2L65.4 514.2L66.4 514.5L67.4 507.8L68.4 504.9L69.4 508.5L70.4 512.0L71.4 511.4L72.4 508.3L73.4 510.1L74.4 509.1L75.4 512.1L76.4 512.7L77.4 509.7L78.4 514.1L79.4 513.1L80.4 515.6L81.4 512.9L82.4 514.1L83.4 520.7L84.4 526.7L85.4 531.2L86.4 533.0L87.4 529.6L88.4 526.2L89.4 525.1L90.4 527.5L91.4 521.9L92.4 521.4L93.4 523.5L94.4 521.8L95.4 526.8L96.4 530.9L97.4 522.1L98.4 522.1L99.4 522.2L100.4 521.6L101.4 524.7L102.4 524.6L103.4 521.4L104.4 525.2L105.4 521.7L106.4 518.1L107.4 520.3L108.4 518.8L109.4 515.8L110.4 510.0L111.4 511.4L112.4 507.5L113.4 505.3L114.4 494.5L115.4 493.7L116.4 493.8L117.4 497.1L118.4 488.5L119.4 486.3L120.4 489.5L121.4 491.4L122.4 482.5L123.4 473.1L124.4 467.8L125.4 471.7L126.4 468.8L127.4 463.7L128.4 462.4L129.4 458.1L130.4 452.8L131.4 450.5L132.4 452.1L133.4 459.7L134.4 462.8L135.4 463.6L136.4 457.5L137.4 446.4L138.4 446.3L139.4 447.1L140.4 446.5L141.4 440.8L142.4 442.7L143.4 447.1L144.4 441.4L145.4 439.1L146.4 438.0L147.4 428.8L148.4 430.5L149.4 425.7L150.4 419.8L151.4 416.4L152.4 413.3L153.4 408.3L154.4 406.4L155.4 395.9L156.4 386.8L157.4 381.5L158.4 372.1L159.4 362.4L160.4 358.8L161.4 353.4L162.4 343.1L163.4 345.8L164.4 353.8L165.4 360.4L166.4 366.3L167.4 365.4L168.4 354.8L169.4 364.9L170.4 369.2L171.4 375.0L172.4 383.1L173.4 384.2L174.4 377.2L175.4 370.1L176.4 365.3L177.4 361.0L178.4 358.0L179.4 352.6L180.4 342.5L181.4 324.5L182.4 321.7L183.4 321.6L184.4 319.9L185.4 319.0L186.4 310.7L187.4 302.6L188.4 296.5L189.4 298.8L190.4 305.9L191.4 309.8L192.4 317.0L193.4 323.2L194.4 314.4L195.4 309.7L196.4 311.5L197.4 317.0L198.4 310.7L199.4 298.5L200.4 296.2L201.4 291.5L202.4 290.0L203.4 299.1L204.4 297.1L205.4 293.4L206.4 294.6L207.4 301.2L208.4 308.4L209.4 303.1L210.4 298.7L211.4 296.2L212.4 291.3L213.4 291.8L214.4 296.8L215.4 300.2L216.4 304.8L217.4 294.0L218.4 291.5L219.4 288.1L220.4 286.6L221.4 284.5L222.4 279.2L223.4 290.4L224.4 293.4L225.4 304.5L226.4 308.3L227.4 318.9L228.4 319.0L229.4 308.7L230.4 303.5L231.4 299.6L232.4 300.8L233.4 304.5L234.4 302.1L235.4 298.2L236.4 294.5L237.4 301.2L238.4 302.4L239.4 312.7L240.4 316.7L241.4 329.5L242.4 346.3L243.4 357.5L244.4 369.8L245.4 359.8L246.4 346.3L247.4 351.0L248.4 356.7L249.4 357.9L250.4 352.5L251.4 354.7L252.4 354.9L253.4 364.8L254.4 367.5L255.4 374.4L256.4 362.3L257.4 356.6L258.4 350.1L259.4 349.0L260.4 357.2L261.4 366.1L262.4 373.6L263.4 378.7L264.4 382.2L265.4 371.9L266.4 365.2L267.4 365.7L268.4 365.0L269.4 368.0L270.4 365.4L271.4 371.6L272.4 375.4L273.4 374.6L274.4 369.5L275.4 365.7L276.4 371.9L277.4 373.4L278.4 375.7L279.4 382.5L280.4 383.4L281.4 372.3L282.4 365.9L283.4 353.9L284.4 352.9L285.4 349.3L286.4 344.0L287.4 342.8L288.4 343.1L289.4 339.3L290.4 337.0L291.4 330.0L292.4 331.8L293.4 331.4L294.4 330.3L295.4 323.4L296.4 326.8L297.4 322.2L298.4 323.6L299.4 318.7L300.4 322.0L301.4 315.2L302.4 317.0L303.4 318.5L304.4 320.4L305.4 318.9L306.4 319.2L307.4 322.0L308.4 316.9L309.4 313.7L310.4 314.6L311.4 319.3L312.4 322.6L313.4 324.7L314.4 330.2L315.4 326.2L316.4 323.3L317.4 323.6L318.4 328.4L319.4 332.8L320.4 337.9L321.4 339.5L322.4 338.6L323.4 336.9L324.4 336.4L325.4 336.5L326.4 327.0L327.4 318.2L328.4 311.3L329.4 304.6L330.4 302.7L331.4 296.4L332.4 296.2L333.4 287.3L334.4 288.8L335.4 282.6L336.4 273.6L337.4 282.1L338.4 286.7L339.4 283.0L340.4 283.4L341.4 285.4L342.4 284.2L343.4 287.6L344.4 289.0L345.4 289.1L346.4 287.0L347.4 287.8L348.4 285.3L349.4 280.4L350.4 270.1L351.4 278.4L352.4 284.0L353.4 285.5L354.4 289.0L355.4 296.3L356.4 289.7L357.4 293.6L358.4 299.9L359.4 294.2L360.4 296.8L361.4 301.9L362.4 301.2L363.4 306.7L364.4 317.3L365.4 321.8L366.4 321.1L367.4 320.9L368.4 321.1L369.4 320.9L370.4 321.4L371.4 320.5L372.4 322.7L373.4 327.3L374.4 327.7L375.4 322.9L376.4 317.5L377.4 321.1L378.4 318.3L379.4 319.8L380.4 314.2L381.4 321.5L382.4 324.7L383.4 330.1L384.4 331.4L385.4 332.9L386.4 337.1L387.4 333.6L388.4 341.1L389.4 343.1L390.4 339.5L391.4 341.6L392.4 342.0L393.4 337.8L394.4 343.5L395.4 353.1L396.4 362.2L397.4 364.7L398.4 355.4L399.4 360.8L400.4 357.9L401.4 347.8L402.4 341.2L403.4 343.5L404.4 340.5L405.4 339.3L406.4 334.1L407.4 330.9L408.4 333.6L409.4 329.6L410.4 336.7L411.4 344.6L412.4 352.3L413.4 355.4L414.4 361.6L415.4 359.4L416.4 349.8L417.4 340.5L418.4 335.9L419.4 339.6L420.4 347.1L421.4 349.4L422.4 343.0L423.4 339.8L424.4 347.2L425.4 353.5L426.4 351.5L427.4 348.7L428.4 346.4L429.4 342.6L430.4 336.4L431.4 336.2L432.4 335.0L433.4 330.3L434.4 324.6L435.4 323.7L436.4 321.9L437.4 320.1L438.4 325.3L439.4 326.1L440.4 332.0L441.4 332.7L442.4 332.0L443.4 338.5L444.4 349.5L445.4 344.9L446.4 339.1L447.4 337.0L448.4 340.3L449.4 342.6L450.4 343.4L451.4 348.1L452.4 349.1L453.4 349.0L454.4 351.1L455.4 353.2L456.4 351.7L457.4 352.2L458.4 352.9L459.4 359.4L460.4 371.8L461.4 380.1L462.4 387.5L463.4 391.3L464.4 390.3L465.4 384.8L466.4 391.2L467.4 391.8L468.4 389.9L469.4 389.7L470.4 394.3L471.4 387.7L472.4 387.3L473.4 385.3L474.4 380.5L475.4 375.1L476.4 381.3L477.4 386.5L478.4 386.6L479.4 384.4L480.4 387.8L481.4 395.3L482.4 409.3L483.4 424.7L484.4 438.3L485.4 448.6L486.4 450.5L487.4 435.8L488.4 430.6L489.4 436.0L490.4 436.6L491.4 441.2L492.4 440.0L493.4 436.2L494.4 433.8L495.4 438.9L496.4 441.8L497.4 435.1L498.4 424.9L499.4 436.5L500.4 443.1L501.4 444.3L502.4 434.8L503.4 428.6L504.4 416.7L505.4 417.7L506.4 421.6L507.4 418.5L508.4 426.9L509.4 433.6L510.4 418.9L511.4 407.7L512.4 413.6L513.4 419.6L514.4 417.4L515.4 419.1L516.4 419.1L517.4 418.5L518.4 416.7L519.4 416.5L520.4 416.4L521.4 413.0L522.4 417.4L523.4 423.2L524.4 428.0L525.4 431.3L526.4 433.3L527.4 436.0L528.4 432.8L529.4 433.6L530.4 438.4L531.4 440.8L532.4 442.1L533.4 443.9L534.4 443.7L535.4 443.0L536.4 437.0L537.4 430.1L538.4 424.2L539.4 433.6L540.4 434.0L541.4 439.0L542.4 444.8L543.4 443.8L544.4 445.1L545.4 444.0L546.4 438.6L547.4 439.0L548.4 438.0L549.4 438.6L550.4 440.4L551.4 440.4L552.4 439.4L553.4 441.8L554.4 443.6L555.4 447.1L556.4 446.6L557.4 442.8L558.4 439.2L559.4 439.9L560.4 439.5L561.4 438.5L562.4 440.6L563.4 440.3L564.4 439.0L565.4 437.8L566.4 433.3L567.4 438.8L568.4 434.2L569.4 436.3L570.4 434.6L571.4 436.4L572.4 429.2L573.4 437.0L574.4 452.9L575.4 467.9L576.4 470.6L577.4 466.1L578.4 469.3L579.4 470.5L580.4 472.7L581.4 473.8L582.4 469.9L583.4 468.9L584.4 463.4L585.4 466.3L586.4 461.0L587.4 461.6L588.4 465.9L589.4 461.4L590.4 460.5L591.4 462.9L592.4 461.3L593.4 459.1L594.4 460.0L595.4 457.4L596.4 455.1L597.4 456.8L598.4 466.9L599.4 467.9L600.4 464.0L601.4 463.2L602.4 461.7L603.4 466.1L604.4 462.7L605.4 465.3L606.4 462.9L607.4 461.0L608.4 463.3L609.4 465.0L610.4 461.1L611.4 456.2L612.4 456.6L613.4 447.9L614.4 440.1L615.4 439.2L616.4 435.1L617.4 427.5L618.4 429.4L619.4 422.0L620.4 421.2L621.4 417.0L622.4 416.4L623.4 412.5L624.4 420.4L625.4 422.3L626.4 417.0L627.4 415.1L628.4 414.6L629.4 421.6L630.4 421.7L631.4 426.5L632.4 423.6L633.4 418.6L634.4 411.1L635.4 410.4L636.4 407.5L637.4 409.9L638.4 412.6L639.4 416.1L640.4 417.4L641.4 417.7L642.4 421.0L643.4 421.4L644.4 427.4L645.4 429.5L646.4 429.9L647.4 431.0L648.4 433.8L649.4 436.9L650.4 429.4L651.4 417.1L652.4 407.9L653.4 400.7L654.4 399.6L655.4 393.3L656.4 392.6L657.4 399.0L658.4 390.5L659.4 391.7L660.4 394.0L661.4 393.9L662.4 393.9L663.4 391.9L664.4 392.3L665.4 391.2L666.4 392.2L667.4 384.2L668.4 382.2L669.4 381.8L670.4 379.7L671.4 381.2L672.4 387.0L673.4 387.5L674.4 393.4L675.4 397.8L676.4 395.3L677.4 392.6L678.4 388.1L679.4 383.9L680.4 385.5L681.4 386.6L682.4 386.5L683.4 389.0L684.4 393.1L685.4 392.3L686.4 397.7L687.4 404.1L688.4 400.5L689.4 400.2L690.4 399.1L691.4 402.5L692.4 400.3L693.4 401.2L694.4 397.7L695.4 398.2L696.4 398.4L697.4 393.2L698.4 398.7L699.4 398.3L700.4 393.8L701.4 400.3L702.4 401.8L703.4 404.3L704.4 405.1L705.4 401.3L706.4 404.2L707.4 410.3L708.4 408.2L709.4 402.5L710.4 394.7L711.4 385.5L712.4 381.0L713.4 385.1L714.4 383.1L715.4 381.8L716.4 386.5L717.4 381.4L718.4 379.7L719.4 382.3L720.4 382.8L721.4 378.9L722.4 377.0L723.4 379.7L724.4 380.1L725.4 377.0L726.4 379.9L727.4 380.9L728.4 384.4L729.4 384.2L730.4 384.5L731.4 384.3L732.4 388.0L733.4 390.3L734.4 387.1L735.4 389.4L736.4 386.6L737.4 387.6L738.4 389.3L739.4 391.5L740.4 387.5L741.4 386.8L742.4 387.3L743.4 383.7L744.4 386.4L745.4 385.7L746.4 389.5L747.4 398.2L748.4 397.3L749.4 403.3L750.4 404.6L751.4 402.7L752.4 405.2L753.4 402.8L754.4 401.8L755.4 404.8L756.4 401.2L757.4 402.8L758.4 405.2L759.4 408.1L760.4 406.7L761.4 407.6L762.4 405.4L763.4 405.5L764.4 407.7L765.4 401.7L766.4 406.2L767.4 401.0L768.4 401.2L769.4 401.8L770.4 404.2L771.4 398.6L772.4 393.9L773.4 398.0L774.4 398.9L775.4 398.3L776.4 403.0L777.4 398.4L778.4 397.0L779.4 398.1L780.4 397.3L781.4 400.8L782.4 395.5L783.4 395.7L784.4 385.6L785.4 390.8L786.4 385.4L787.4 381.2L788.4 378.0L789.4 368.7L790.4 365.9L791.4 363.8L792.4 361.6L793.4 360.8L794.4 362.9L795.4 361.3L796.4 360.3L797.4 358.7L798.4 360.1L799.4 358.8L800.4 356.2L801.4 356.7L802.4 355.0L803.4 352.7L804.4 358.5L805.4 358.3L806.4 354.7L807.4 357.5L808.4 355.8L809.4 350.1L810.4 355.1L811.4 350.8L812.4 348.7L813.4 343.4L814.4 338.2L815.4 330.5L816.4 335.7L817.4 336.2L818.4 336.5L819.4 338.7L820.4 339.0L821.4 341.0L822.4 338.5L823.4 336.7L824.4 329.8L825.4 331.1L826.4 335.8L827.4 339.8L828.4 337.8L829.4 335.3L830.4 337.2L831.4 331.7L832.4 332.5L833.4 334.5L834.4 330.8L835.4 329.7L836.4 321.5L837.4 324.4L838.4 329.8L839.4 334.5L840.4 339.0L841.4 344.8L842.4 340.9L843.4 341.9L844.4 346.6L845.4 345.6L846.4 345.1L847.4 342.8L848.4 337.7L849.4 338.4L850.4 333.3L851.4 337.0L852.4 332.2L853.4 329.9L854.4 325.7L855.4 321.4L856.4 320.5L857.4 316.3L858.4 311.6L859.4 311.1L860.4 314.1L861.4 311.3L862.4 311.3L863.4 313.4L864.4 311.6L865.4 307.4L866.4 315.2L867.4 308.8L868.4 289.1L869.4 285.1L870.4 282.8L871.4 280.6L872.4 276.8L873.4 271.0L874.4 265.0L875.4 266.6L876.4 273.4L877.4 273.1L878.4 275.8L879.4 280.9L880.4 279.2L881.4 277.4L882.4 273.1L883.4 270.7L884.4 268.8L885.4 268.4L886.4 269.9L887.4 269.8L888.4 266.6L889.4 268.3L890.4 272.4L891.4 276.1L892.4 280.4L893.4 278.3L894.4 280.8L895.4 278.0L896.4 285.7L897.4 280.7L898.4 279.9L899.4 280.8L900.4 276.1L901.4 278.6L902.4 279.9L903.4 277.5L904.4 283.4L905.4 291.3L906.4 290.7L907.4 295.8L908.4 291.1L909.4 287.0L910.4 284.5L911.4 288.7L912.4 287.7L913.4 290.0L914.4 282.1L915.4 278.8L916.4 270.3L917.4 270.6L918.4 274.8L919.4 272.6L920.4 270.1L921.4 267.4L922.4 267.9L923.4 270.7L924.4 273.7L925.4 273.4L926.4 273.3L927.4 271.7L928.4 274.5L929.4 271.0L930.4 270.4L931.4 275.8L932.4 277.0L933.4 277.8L934.4 278.6L935.4 280.8L936.4 284.8L937.4 286.3L938.4 284.0L939.4 288.3L940.4 289.9L941.4 288.4L942.4 293.5L943.4 295.9L944.4 299.3L945.4 305.8L946.4 305.8L947.4 298.8L948.4 297.5L949.4 291.5L950.4 294.9L951.4 286.7L952.4 285.9L953.4 279.8L954.4 280.7L955.4 283.3L956.4 271.6L957.4 272.4L958.4 274.5L959.4 273.3L960.4 271.6L961.4 281.9L962.4 282.8L963.4 291.6L964.4 310.0L965.4 308.2L966.4 300.5L967.4 289.1L968.4 291.2L969.4 295.4L970.4 294.6L971.4 289.8L972.4 285.3L973.4 289.2L974.4 287.6L975.4 282.5L976.4 287.4L977.4 289.4L978.4 291.8L979.4 286.3L980.4 290.3L981.4 295.4L982.4 300.4L983.4 305.6L984.4 302.3L985.4 304.9L986.4 302.9L987.4 304.5L988.4 294.4L989.4 291.1L990.4 289.2L991.4 289.0L992.4 284.0L993.4 284.5L994.4 280.0L995.4 280.6L996.4 278.3L997.4 278.7L998.4 278.9L999.4 278.9L1000.4 286.5L1001.4 285.6L1002.4 282.8L1003.4 286.3L1004.4 292.1L1005.4 290.8L1006.4 286.6L1007.4 283.3L1008.4 280.2L1009.4 275.7L1010.4 268.2L1011.4 275.3L1012.4 275.6L1013.4 275.3L1014.4 273.3L1015.4 272.3L1016.4 268.9L1017.4 265.1L1018.4 265.3L1019.4 269.0L1020.4 272.3L1021.4 266.2L1022.4 263.4L1023.4 252.7L1024.4 248.4L1025.4 238.7L1026.4 235.1L1027.4 238.6L1028.4 236.5L1029.4 229.0L1030.4 225.3L1031.4 225.3L1032.4 222.2L1033.4 224.7L1034.4 226.3L1035.4 224.8L1036.4 224.7L1037.4 225.1L1038.4 224.3L1039.4 223.7L1040.4 223.8L1041.4 222.1L1042.4 221.5L1043.4 219.6L1044.4 217.8L1045.4 215.8L1046.4 209.9L1047.4 213.2L1048.4 219.0L1049.4 221.6L1050.4 225.2L1051.4 229.0L1052.4 228.3L1053.4 231.3L1054.4 219.5L1055.4 224.5L1056.4 224.1L1057.4 230.5L1058.4 232.2L1059.4 217.5L1060.4 222.9L1061.4 228.7L1062.4 230.6L1063.4 232.9L1064.4 227.4L1065.4 228.4L1066.4 222.2L1067.4 215.9L1068.4 213.7L1069.4 215.5L1070.4 213.6L1071.4 215.9L1072.4 215.7L1073.4 212.2L1074.4 217.3L1075.4 220.3L1076.4 223.4L1077.4 221.3L1078.4 223.5L1079.4 226.7L1080.4 226.4L1081.4 228.2L1082.4 231.7L1083.4 226.0L1084.4 222.3L1085.4 228.1L1086.4 231.0L1087.4 229.5L1088.4 228.2L1089.4 229.1L1090.4 234.8L1091.4 251.3L1092.4 247.5L1093.4 234.8L1094.4 227.5L1095.4 238.8L1096.4 242.7L1097.4 243.6L1098.4 252.7L1099.4 253.4L1100.4 247.5L1101.4 248.9L1102.4 246.3L1103.4 242.8L1104.4 247.2L1105.4 242.7L1106.4 242.2L1107.4 240.4L1108.4 240.2L1109.4 244.1L1110.4 244.6L1111.4 240.3L1112.4 237.1L1113.4 240.8L1114.4 249.7L1115.4 259.2L1116.4 257.2L1117.4 253.2L1118.4 248.4L1119.4 244.6L1120.4 242.8L1121.4 239.0L1122.4 242.6L1123.4 244.1L1124.4 239.6L1125.4 232.9L1126.4 230.5L1127.4 232.7L1128.4 230.9L1129.4 231.4L1130.4 230.7L1131.4 229.0L1132.4 229.3L1133.4 222.7L1134.4 219.7L1135.4 217.1L1136.4 215.4L1137.4 220.8L1138.4 223.4L1139.4 220.4L1140.4 220.4L1141.4 219.0L1142.4 215.5L1143.4 213.4L1144.4 207.6L1145.4 208.1L1146.4 211.7L1147.4 216.8L1148.4 216.5L1149.4 213.7L1150.4 213.3L1151.2 212.1" fill="none" stroke="#0d0d0d" stroke-width="2.8" stroke-linejoin="round" stroke-linecap="round"/><line x1="1155" y1="128.7" x2="1155" y2="580.6" stroke="#7fd65a" stroke-width="1.6"/><line x1="1084.2" y1="79.1" x2="1153.5" y2="140.5" stroke="#111111" stroke-width="2" stroke-linecap="round"/><line x1="1153.5" y1="140.5" x2="1153.5" y2="281" stroke="#111111" stroke-width="2.4"/><text x="10" y="686.5" font-size="16" fill="#787878" textLength="295" lengthAdjust="spacingAndGlyphs">© 2025 Glassnode. All Rights Reserved.</text><text transform="translate(1094.78 691.2) scale(1.131 1)" font-size="34" fill="#c9c9c9" stroke="#c9c9c9" stroke-width="0.71">g</text><text transform="translate(1116.42 691.2) scale(1.037 1)" font-size="34" fill="#c9c9c9" stroke="#c9c9c9" stroke-width="0.77">l</text><ellipse cx="1135.40" cy="682.05" rx="7.22" ry="7.67" fill="none" stroke="#c9c9c9" stroke-width="3.95"/><rect x="1140.65" y="672.91" width="3.95" height="18.29" fill="#c9c9c9"/><text transform="translate(1147.09 691.2) scale(0.857 1)" font-size="34" fill="#c9c9c9" stroke="#c9c9c9" stroke-width="0.93">s</text><text transform="translate(1161.97 691.2) scale(0.877 1)" font-size="34" fill="#c9c9c9" stroke="#c9c9c9" stroke-width="0.91">s</text><text transform="translate(1175.76 691.2) scale(1.080 1)" font-size="34" fill="#c9c9c9" stroke="#c9c9c9" stroke-width="0.74">n</text><text transform="translate(1195.96 691.2) scale(1.009 1)" font-size="34" fill="#c9c9c9" stroke="#c9c9c9" stroke-width="0.79">o</text><text transform="translate(1217.12 691.2) scale(1.105 1)" font-size="34" fill="#c9c9c9" stroke="#c9c9c9" stroke-width="0.72">d</text><text transform="translate(1238.03 691.2) scale(1.084 1)" font-size="34" fill="#c9c9c9" stroke="#c9c9c9" stroke-width="0.74">e</text></svg>
</body></html>
